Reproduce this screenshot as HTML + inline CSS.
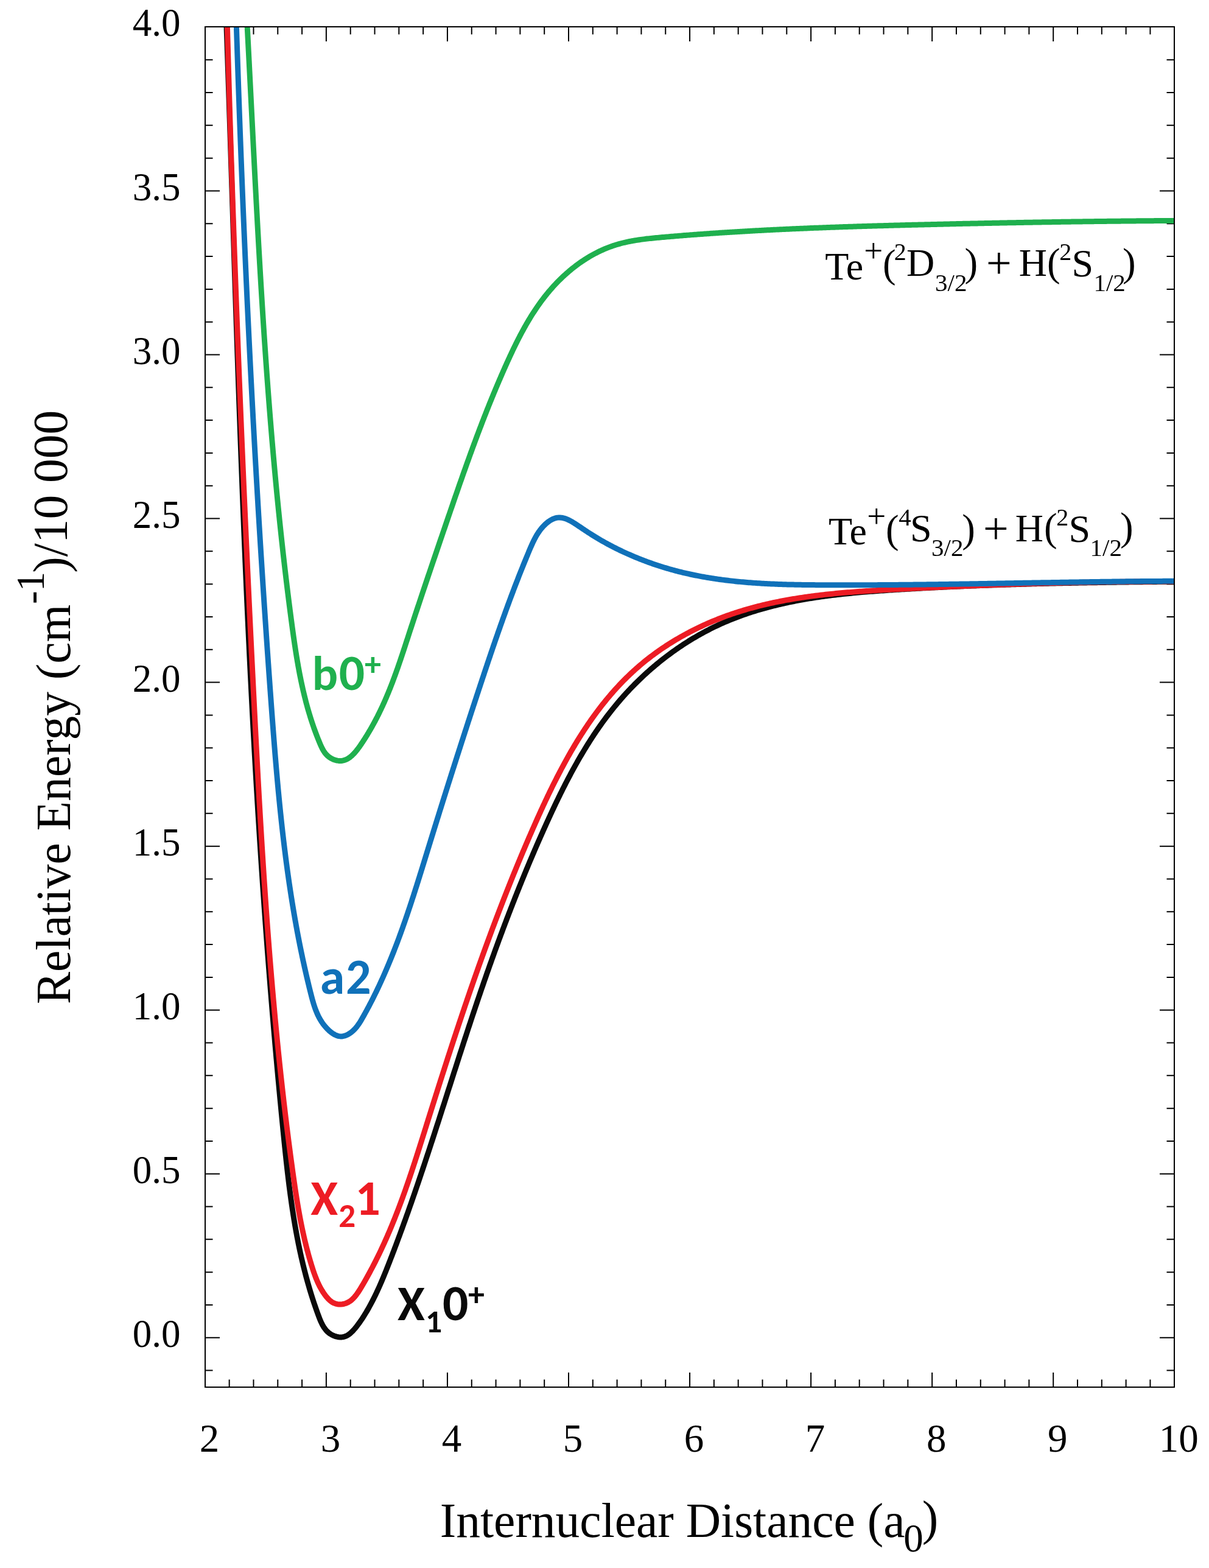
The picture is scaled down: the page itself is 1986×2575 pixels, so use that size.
<!DOCTYPE html>
<html><head><meta charset="utf-8"><style>html,body{margin:0;padding:0;background:#fff;width:1986px;height:2575px;overflow:hidden}svg{display:block}</style></head>
<body>
<svg width="1986" height="2575" viewBox="0 0 1986 2575">
<rect width="1986" height="2575" fill="#fff"/>
<defs><clipPath id="pc"><rect x="338" y="45" width="1590" height="2232"/></clipPath></defs>
<g stroke="#000" stroke-width="2" fill="none">
<path d="M376.66,2278v-12.5M376.66,44v12.5M416.47,2278v-12.5M416.47,44v12.5M456.28,2278v-12.5M456.28,44v12.5M496.09,2278v-12.5M496.09,44v12.5M535.90,2278v-24M535.90,44v24M575.71,2278v-12.5M575.71,44v12.5M615.52,2278v-12.5M615.52,44v12.5M655.33,2278v-12.5M655.33,44v12.5M695.14,2278v-12.5M695.14,44v12.5M734.95,2278v-24M734.95,44v24M774.76,2278v-12.5M774.76,44v12.5M814.57,2278v-12.5M814.57,44v12.5M854.38,2278v-12.5M854.38,44v12.5M894.19,2278v-12.5M894.19,44v12.5M934.00,2278v-24M934.00,44v24M973.81,2278v-12.5M973.81,44v12.5M1013.62,2278v-12.5M1013.62,44v12.5M1053.43,2278v-12.5M1053.43,44v12.5M1093.24,2278v-12.5M1093.24,44v12.5M1133.05,2278v-24M1133.05,44v24M1172.86,2278v-12.5M1172.86,44v12.5M1212.67,2278v-12.5M1212.67,44v12.5M1252.48,2278v-12.5M1252.48,44v12.5M1292.29,2278v-12.5M1292.29,44v12.5M1332.10,2278v-24M1332.10,44v24M1371.91,2278v-12.5M1371.91,44v12.5M1411.72,2278v-12.5M1411.72,44v12.5M1451.53,2278v-12.5M1451.53,44v12.5M1491.34,2278v-12.5M1491.34,44v12.5M1531.15,2278v-24M1531.15,44v24M1570.96,2278v-12.5M1570.96,44v12.5M1610.77,2278v-12.5M1610.77,44v12.5M1650.58,2278v-12.5M1650.58,44v12.5M1690.39,2278v-12.5M1690.39,44v12.5M1730.20,2278v-24M1730.20,44v24M1770.01,2278v-12.5M1770.01,44v12.5M1809.82,2278v-12.5M1809.82,44v12.5M1849.63,2278v-12.5M1849.63,44v12.5M1889.44,2278v-12.5M1889.44,44v12.5M337,2250.61h12.5M1929,2250.61h-12.5M337,2196.80h24M1929,2196.80h-24M337,2142.99h12.5M1929,2142.99h-12.5M337,2089.18h12.5M1929,2089.18h-12.5M337,2035.37h12.5M1929,2035.37h-12.5M337,1981.56h12.5M1929,1981.56h-12.5M337,1927.75h24M1929,1927.75h-24M337,1873.94h12.5M1929,1873.94h-12.5M337,1820.13h12.5M1929,1820.13h-12.5M337,1766.32h12.5M1929,1766.32h-12.5M337,1712.51h12.5M1929,1712.51h-12.5M337,1658.70h24M1929,1658.70h-24M337,1604.89h12.5M1929,1604.89h-12.5M337,1551.08h12.5M1929,1551.08h-12.5M337,1497.27h12.5M1929,1497.27h-12.5M337,1443.46h12.5M1929,1443.46h-12.5M337,1389.65h24M1929,1389.65h-24M337,1335.84h12.5M1929,1335.84h-12.5M337,1282.03h12.5M1929,1282.03h-12.5M337,1228.22h12.5M1929,1228.22h-12.5M337,1174.41h12.5M1929,1174.41h-12.5M337,1120.60h24M1929,1120.60h-24M337,1066.79h12.5M1929,1066.79h-12.5M337,1012.98h12.5M1929,1012.98h-12.5M337,959.17h12.5M1929,959.17h-12.5M337,905.36h12.5M1929,905.36h-12.5M337,851.55h24M1929,851.55h-24M337,797.74h12.5M1929,797.74h-12.5M337,743.93h12.5M1929,743.93h-12.5M337,690.12h12.5M1929,690.12h-12.5M337,636.31h12.5M1929,636.31h-12.5M337,582.50h24M1929,582.50h-24M337,528.69h12.5M1929,528.69h-12.5M337,474.88h12.5M1929,474.88h-12.5M337,421.07h12.5M1929,421.07h-12.5M337,367.26h12.5M1929,367.26h-12.5M337,313.45h24M1929,313.45h-24M337,259.64h12.5M1929,259.64h-12.5M337,205.83h12.5M1929,205.83h-12.5M337,152.02h12.5M1929,152.02h-12.5M337,98.21h12.5M1929,98.21h-12.5"/>
</g>
<g clip-path="url(#pc)" fill="none" stroke-width="9" stroke-linejoin="round" stroke-linecap="butt">
<path stroke="#0a0a0a" d="M372.05,44.02 L372.15,46.88 L372.25,49.74 L372.35,52.60 L372.45,55.47 L372.55,58.33 L372.65,61.19 L372.75,64.05 L372.85,66.91 L372.95,69.77 L373.05,72.64 L373.15,75.50 L373.25,78.36 L373.35,81.22 L373.45,84.08 L373.55,86.94 L373.64,89.81 L373.74,92.67 L373.84,95.53 L373.94,98.39 L374.04,101.25 L374.13,104.11 L374.23,106.98 L374.33,109.84 L374.43,112.70 L374.52,115.56 L374.62,118.42 L374.72,121.29 L374.82,124.15 L374.91,127.01 L375.01,129.87 L375.11,132.73 L375.20,135.60 L375.30,138.46 L375.40,141.32 L375.49,144.18 L375.59,147.04 L375.69,149.90 L375.78,152.77 L375.88,155.63 L375.97,158.49 L376.07,161.35 L376.17,164.21 L376.26,167.08 L376.36,169.94 L376.45,172.80 L376.55,175.66 L376.64,178.52 L376.74,181.39 L376.84,184.25 L376.93,187.11 L377.03,189.97 L377.12,192.84 L377.22,195.70 L377.31,198.56 L377.41,201.42 L377.50,204.28 L377.60,207.15 L377.69,210.01 L377.78,212.87 L377.88,215.73 L377.97,218.59 L378.07,221.46 L378.16,224.32 L378.26,227.18 L378.35,230.04 L378.45,232.91 L378.54,235.77 L378.63,238.63 L378.73,241.49 L378.82,244.35 L378.92,247.22 L379.01,250.08 L379.10,252.94 L379.20,255.80 L379.29,258.67 L379.39,261.53 L379.48,264.39 L379.57,267.25 L379.67,270.11 L379.76,272.98 L379.86,275.84 L379.95,278.70 L380.04,281.56 L380.14,284.43 L380.23,287.29 L380.32,290.15 L380.42,293.01 L380.51,295.88 L380.60,298.74 L380.70,301.60 L380.79,304.46 L380.88,307.32 L380.98,310.19 L381.07,313.05 L381.16,315.91 L381.26,318.77 L381.35,321.64 L381.45,324.50 L381.54,327.36 L381.63,330.22 L381.73,333.09 L381.82,335.95 L381.91,338.81 L382.01,341.67 L382.10,344.54 L382.19,347.40 L382.29,350.26 L382.38,353.12 L382.47,355.99 L382.57,358.85 L382.66,361.71 L382.75,364.57 L382.85,367.43 L382.94,370.30 L383.03,373.16 L383.13,376.02 L383.22,378.88 L383.31,381.75 L383.41,384.61 L383.50,387.47 L383.59,390.33 L383.69,393.20 L383.78,396.06 L383.88,398.92 L383.97,401.78 L384.06,404.65 L384.16,407.51 L384.25,410.37 L384.34,413.23 L384.44,416.10 L384.53,418.96 L384.63,421.82 L384.72,424.68 L384.81,427.55 L384.91,430.41 L385.00,433.27 L385.10,436.13 L385.19,439.00 L385.28,441.86 L385.38,444.72 L385.47,447.58 L385.57,450.45 L385.66,453.31 L385.76,456.17 L385.85,459.03 L385.95,461.90 L386.04,464.76 L386.14,467.62 L386.23,470.48 L386.33,473.35 L386.42,476.21 L386.52,479.07 L386.61,481.93 L386.71,484.80 L386.80,487.66 L386.90,490.52 L386.99,493.38 L387.09,496.25 L387.18,499.11 L387.28,501.97 L387.37,504.83 L387.47,507.70 L387.57,510.56 L387.66,513.42 L387.76,516.28 L387.85,519.15 L387.95,522.01 L388.05,524.87 L388.14,527.73 L388.24,530.60 L388.33,533.46 L388.43,536.32 L388.53,539.18 L388.63,542.05 L388.72,544.91 L388.82,547.77 L388.92,550.63 L389.01,553.49 L389.11,556.36 L389.21,559.22 L389.31,562.08 L389.40,564.94 L389.50,567.81 L389.60,570.67 L389.70,573.53 L389.79,576.39 L389.89,579.26 L389.99,582.12 L390.09,584.98 L390.19,587.84 L390.29,590.71 L390.39,593.57 L390.48,596.43 L390.58,599.29 L390.68,602.16 L390.78,605.02 L390.88,607.88 L390.98,610.74 L391.08,613.60 L391.18,616.47 L391.28,619.33 L391.38,622.19 L391.48,625.05 L391.58,627.92 L391.68,630.78 L391.78,633.64 L391.88,636.50 L391.98,639.37 L392.08,642.23 L392.18,645.09 L392.29,647.95 L392.39,650.81 L392.49,653.68 L392.59,656.54 L392.69,659.40 L392.79,662.26 L392.90,665.13 L393.00,667.99 L393.10,670.85 L393.20,673.71 L393.31,676.58 L393.41,679.44 L393.51,682.30 L393.62,685.16 L393.72,688.02 L393.82,690.89 L393.93,693.75 L394.03,696.61 L394.13,699.47 L394.24,702.33 L394.34,705.20 L394.45,708.06 L394.55,710.92 L394.66,713.78 L394.76,716.65 L394.87,719.51 L394.97,722.37 L395.08,725.23 L395.18,728.09 L395.29,730.96 L395.40,733.82 L395.50,736.68 L395.61,739.54 L395.72,742.40 L395.82,745.27 L395.93,748.13 L396.04,750.99 L396.15,753.85 L396.25,756.71 L396.36,759.58 L396.47,762.44 L396.58,765.30 L396.69,768.16 L396.80,771.02 L396.90,773.89 L397.01,776.75 L397.12,779.61 L397.23,782.47 L397.34,785.33 L397.45,788.20 L397.56,791.06 L397.67,793.92 L397.78,796.78 L397.89,799.64 L398.01,802.50 L398.12,805.37 L398.23,808.23 L398.34,811.09 L398.45,813.95 L398.56,816.81 L398.68,819.68 L398.79,822.54 L398.90,825.40 L399.01,828.26 L399.13,831.12 L399.24,833.98 L399.36,836.85 L399.47,839.71 L399.58,842.57 L399.70,845.43 L399.81,848.29 L399.93,851.15 L400.04,854.02 L400.16,856.88 L400.27,859.74 L400.39,862.60 L400.51,865.46 L400.62,868.32 L400.74,871.18 L400.86,874.05 L400.97,876.91 L401.09,879.77 L401.21,882.63 L401.33,885.49 L401.44,888.35 L401.56,891.22 L401.68,894.08 L401.80,896.94 L401.92,899.80 L402.04,902.66 L402.16,905.52 L402.28,908.38 L402.40,911.25 L402.52,914.11 L402.64,916.97 L402.76,919.83 L402.88,922.69 L403.01,925.55 L403.13,928.41 L403.25,931.27 L403.37,934.14 L403.50,937.00 L403.62,939.86 L403.74,942.72 L403.87,945.58 L403.99,948.44 L404.11,951.30 L404.24,954.16 L404.36,957.02 L404.49,959.89 L404.61,962.75 L404.74,965.61 L404.86,968.47 L404.99,971.33 L405.12,974.19 L405.24,977.05 L405.37,979.91 L405.50,982.77 L405.63,985.63 L405.75,988.50 L405.88,991.36 L406.01,994.22 L406.14,997.08 L406.27,999.94 L406.40,1002.80 L406.53,1005.66 L406.66,1008.52 L406.79,1011.38 L406.92,1014.24 L407.05,1017.10 L407.18,1019.97 L407.32,1022.83 L407.45,1025.69 L407.58,1028.55 L407.71,1031.41 L407.85,1034.27 L407.98,1037.13 L408.11,1039.99 L408.25,1042.85 L408.38,1045.71 L408.52,1048.57 L408.65,1051.43 L408.79,1054.29 L408.92,1057.15 L409.06,1060.01 L409.20,1062.87 L409.33,1065.73 L409.47,1068.60 L409.61,1071.46 L409.74,1074.32 L409.88,1077.18 L410.02,1080.04 L410.16,1082.90 L410.30,1085.76 L410.44,1088.62 L410.58,1091.48 L410.72,1094.34 L410.86,1097.20 L411.00,1100.06 L411.14,1102.92 L411.28,1105.78 L411.43,1108.64 L411.57,1111.50 L411.71,1114.36 L411.85,1117.22 L412.00,1120.08 L412.14,1122.94 L412.29,1125.80 L412.43,1128.66 L412.58,1131.52 L412.72,1134.38 L412.87,1137.24 L413.01,1140.10 L413.16,1142.96 L413.31,1145.82 L413.45,1148.68 L413.60,1151.54 L413.75,1154.40 L413.90,1157.26 L414.05,1160.12 L414.20,1162.98 L414.34,1165.84 L414.49,1168.70 L414.65,1171.56 L414.80,1174.42 L414.95,1177.28 L415.10,1180.14 L415.25,1183.00 L415.40,1185.86 L415.56,1188.71 L415.71,1191.57 L415.86,1194.43 L416.02,1197.29 L416.17,1200.15 L416.32,1203.01 L416.48,1205.87 L416.64,1208.73 L416.79,1211.59 L416.95,1214.45 L417.10,1217.31 L417.26,1220.17 L417.42,1223.03 L417.58,1225.89 L417.74,1228.75 L417.89,1231.61 L418.05,1234.46 L418.21,1237.32 L418.37,1240.18 L418.53,1243.04 L418.70,1245.90 L418.86,1248.76 L419.02,1251.62 L419.18,1254.48 L419.34,1257.34 L419.51,1260.20 L419.67,1263.05 L419.83,1265.91 L420.00,1268.77 L420.16,1271.63 L420.33,1274.49 L420.49,1277.35 L420.66,1280.21 L420.83,1283.07 L420.99,1285.93 L421.16,1288.78 L421.33,1291.64 L421.50,1294.50 L421.67,1297.36 L421.84,1300.22 L422.01,1303.08 L422.18,1305.94 L422.35,1308.79 L422.52,1311.65 L422.69,1314.51 L422.86,1317.37 L423.03,1320.23 L423.21,1323.09 L423.38,1325.94 L423.55,1328.80 L423.73,1331.66 L423.90,1334.52 L424.08,1337.38 L424.25,1340.24 L424.43,1343.09 L424.61,1345.95 L424.78,1348.81 L424.96,1351.67 L425.14,1354.53 L425.32,1357.38 L425.50,1360.24 L425.68,1363.10 L425.86,1365.96 L426.04,1368.82 L426.22,1371.67 L426.40,1374.53 L426.58,1377.39 L426.76,1380.25 L426.95,1383.11 L427.13,1385.96 L427.31,1388.82 L427.50,1391.68 L427.68,1394.54 L427.87,1397.39 L428.06,1400.25 L428.24,1403.11 L428.43,1405.97 L428.62,1408.82 L428.80,1411.68 L428.99,1414.54 L429.18,1417.40 L429.37,1420.25 L429.56,1423.11 L429.75,1425.97 L429.94,1428.83 L430.13,1431.68 L430.33,1434.54 L430.52,1437.40 L430.71,1440.26 L430.90,1443.11 L431.10,1445.97 L431.29,1448.83 L431.49,1451.68 L431.68,1454.54 L431.88,1457.40 L432.08,1460.25 L432.27,1463.11 L432.47,1465.97 L432.67,1468.83 L432.87,1471.68 L433.07,1474.54 L433.27,1477.40 L433.47,1480.25 L433.67,1483.11 L433.87,1485.97 L434.07,1488.82 L434.28,1491.68 L434.48,1494.54 L434.68,1497.39 L434.89,1500.25 L435.09,1503.11 L435.30,1505.96 L435.50,1508.82 L435.71,1511.67 L435.92,1514.53 L436.12,1517.39 L436.33,1520.24 L436.54,1523.10 L436.75,1525.96 L436.96,1528.81 L437.17,1531.67 L437.38,1534.52 L437.59,1537.38 L437.80,1540.24 L438.02,1543.09 L438.23,1545.95 L438.44,1548.80 L438.66,1551.66 L438.87,1554.52 L439.09,1557.37 L439.30,1560.23 L439.52,1563.08 L439.74,1565.94 L439.95,1568.79 L440.17,1571.65 L440.39,1574.51 L440.61,1577.36 L440.83,1580.22 L441.05,1583.07 L441.27,1585.93 L441.49,1588.78 L441.72,1591.64 L441.94,1594.49 L442.16,1597.35 L442.39,1600.21 L442.61,1603.06 L442.84,1605.92 L443.06,1608.77 L443.29,1611.63 L443.52,1614.48 L443.74,1617.34 L443.97,1620.19 L444.20,1623.05 L444.43,1625.90 L444.66,1628.76 L444.89,1631.61 L445.12,1634.47 L445.35,1637.32 L445.59,1640.18 L445.82,1643.03 L446.05,1645.89 L446.29,1648.74 L446.52,1651.59 L446.76,1654.45 L446.99,1657.30 L447.23,1660.16 L447.47,1663.01 L447.71,1665.87 L447.95,1668.72 L448.19,1671.58 L448.43,1674.43 L448.67,1677.28 L448.91,1680.14 L449.15,1682.99 L449.39,1685.85 L449.63,1688.70 L449.88,1691.56 L450.12,1694.41 L450.37,1697.26 L450.61,1700.12 L450.86,1702.97 L451.11,1705.83 L451.35,1708.68 L451.60,1711.53 L451.85,1714.39 L452.10,1717.24 L452.35,1720.09 L452.60,1722.95 L452.85,1725.80 L453.11,1728.66 L453.36,1731.51 L453.61,1734.36 L453.87,1737.22 L454.12,1740.07 L454.38,1742.92 L454.63,1745.78 L454.89,1748.63 L455.15,1751.48 L455.40,1754.34 L455.66,1757.19 L455.92,1760.04 L456.18,1762.90 L456.44,1765.75 L456.70,1768.60 L456.97,1771.46 L457.23,1774.31 L457.49,1777.16 L457.76,1780.01 L458.02,1782.87 L458.29,1785.72 L458.55,1788.57 L458.82,1791.42 L459.09,1794.28 L459.35,1797.13 L459.62,1799.98 L459.89,1802.84 L460.16,1805.69 L460.43,1808.54 L460.71,1811.39 L460.98,1814.25 L461.25,1817.10 L461.53,1819.95 L461.80,1822.80 L462.07,1825.65 L462.35,1828.51 L462.63,1831.36 L462.90,1834.21 L463.18,1837.06 L463.46,1839.91 L463.74,1842.77 L464.02,1845.62 L464.30,1848.47 L464.58,1851.32 L464.86,1854.17 L465.15,1857.03 L465.43,1859.88 L465.71,1862.73 L466.00,1865.58 L466.29,1868.43 L466.57,1871.28 L466.86,1874.13 L467.15,1876.99 L467.44,1879.84 L467.73,1882.69 L468.03,1885.54 L468.32,1888.39 L468.62,1891.24 L468.92,1894.09 L469.22,1896.94 L469.53,1899.79 L469.83,1902.63 L470.14,1905.48 L470.45,1908.33 L470.77,1911.18 L471.08,1914.03 L471.40,1916.87 L471.72,1919.72 L472.05,1922.56 L472.38,1925.41 L472.71,1928.25 L473.04,1931.10 L473.38,1933.94 L473.73,1936.78 L474.07,1939.62 L474.42,1942.47 L474.78,1945.31 L475.13,1948.15 L475.50,1950.98 L475.86,1953.82 L476.24,1956.66 L476.61,1959.50 L476.99,1962.33 L477.38,1965.17 L477.77,1968.00 L478.16,1970.84 L478.56,1973.67 L478.97,1976.50 L479.38,1979.33 L479.80,1982.16 L480.22,1984.99 L480.65,1987.81 L481.08,1990.64 L481.52,1993.47 L481.96,1996.29 L482.42,1999.11 L482.87,2001.94 L483.34,2004.76 L483.81,2007.58 L484.29,2010.39 L484.77,2013.21 L485.26,2016.03 L485.76,2018.84 L486.26,2021.65 L486.78,2024.47 L487.30,2027.28 L487.82,2030.09 L488.36,2032.89 L488.90,2035.70 L489.45,2038.50 L490.01,2041.31 L490.57,2044.11 L491.14,2046.91 L491.73,2049.71 L492.32,2052.51 L492.91,2055.30 L493.52,2058.10 L494.14,2060.89 L494.76,2063.68 L495.40,2066.47 L496.04,2069.26 L496.69,2072.04 L497.35,2074.82 L498.02,2077.61 L498.70,2080.39 L499.39,2083.17 L500.09,2085.94 L500.80,2088.72 L501.51,2091.49 L502.24,2094.26 L502.98,2097.03 L503.73,2099.80 L504.49,2102.56 L505.26,2105.33 L506.04,2108.09 L506.83,2110.85 L507.63,2113.61 L508.44,2116.36 L509.27,2119.11 L510.10,2121.86 L510.95,2124.61 L511.80,2127.36 L512.67,2130.10 L513.55,2132.85 L514.45,2135.59 L515.35,2138.32 L516.26,2141.06 L517.19,2143.79 L518.13,2146.52 L519.09,2149.25 L520.05,2151.98 L521.03,2154.70 L522.02,2157.42 L523.02,2160.14 L524.04,2162.86 L525.08,2165.56 L526.17,2168.23 L527.31,2170.86 L528.52,2173.43 L529.81,2175.94 L531.21,2178.37 L532.71,2180.70 L534.35,2182.93 L536.13,2185.04 L538.06,2187.01 L540.17,2188.84 L542.46,2190.50 L544.94,2191.99 L547.56,2193.28 L550.30,2194.35 L553.12,2195.17 L555.97,2195.71 L558.82,2195.96 L561.64,2195.89 L564.39,2195.47 L567.03,2194.69 L569.55,2193.58 L571.98,2192.16 L574.30,2190.49 L576.52,2188.60 L578.66,2186.55 L580.72,2184.36 L582.70,2182.09 L584.61,2179.77 L586.45,2177.44 L588.24,2175.10 L589.96,2172.76 L591.64,2170.40 L593.27,2168.03 L594.87,2165.66 L596.42,2163.27 L597.95,2160.86 L599.45,2158.45 L600.93,2156.02 L602.38,2153.58 L603.81,2151.12 L605.22,2148.65 L606.61,2146.17 L607.98,2143.68 L609.33,2141.17 L610.66,2138.66 L611.98,2136.13 L613.27,2133.60 L614.55,2131.05 L615.81,2128.50 L617.05,2125.93 L618.28,2123.36 L619.50,2120.78 L620.69,2118.18 L621.88,2115.59 L623.05,2112.98 L624.21,2110.37 L625.36,2107.75 L626.50,2105.12 L627.62,2102.49 L628.74,2099.86 L629.84,2097.21 L630.94,2094.57 L632.02,2091.92 L633.10,2089.26 L634.18,2086.60 L635.24,2083.94 L636.30,2081.27 L637.35,2078.61 L638.40,2075.94 L639.45,2073.26 L640.49,2070.59 L641.52,2067.92 L642.56,2065.24 L643.59,2062.56 L644.62,2059.89 L645.64,2057.21 L646.66,2054.53 L647.68,2051.85 L648.70,2049.16 L649.71,2046.48 L650.72,2043.80 L651.73,2041.11 L652.73,2038.43 L653.73,2035.74 L654.73,2033.05 L655.73,2030.37 L656.72,2027.68 L657.71,2024.99 L658.70,2022.29 L659.69,2019.60 L660.67,2016.91 L661.65,2014.22 L662.63,2011.52 L663.60,2008.83 L664.57,2006.13 L665.54,2003.43 L666.51,2000.74 L667.48,1998.04 L668.44,1995.34 L669.40,1992.64 L670.36,1989.94 L671.31,1987.23 L672.27,1984.53 L673.22,1981.83 L674.17,1979.13 L675.12,1976.42 L676.06,1973.72 L677.00,1971.01 L677.95,1968.30 L678.88,1965.60 L679.82,1962.89 L680.76,1960.18 L681.69,1957.47 L682.62,1954.76 L683.55,1952.05 L684.48,1949.34 L685.40,1946.63 L686.33,1943.92 L687.25,1941.20 L688.17,1938.49 L689.09,1935.78 L690.01,1933.06 L690.92,1930.35 L691.84,1927.63 L692.75,1924.92 L693.66,1922.20 L694.57,1919.48 L695.48,1916.77 L696.38,1914.05 L697.29,1911.33 L698.19,1908.61 L699.10,1905.89 L700.00,1903.17 L700.90,1900.45 L701.79,1897.73 L702.69,1895.01 L703.59,1892.29 L704.48,1889.57 L705.38,1886.85 L706.27,1884.13 L707.16,1881.40 L708.05,1878.68 L708.94,1875.96 L709.83,1873.24 L710.72,1870.51 L711.60,1867.79 L712.49,1865.06 L713.38,1862.34 L714.26,1859.61 L715.14,1856.89 L716.03,1854.16 L716.91,1851.44 L717.79,1848.71 L718.67,1845.99 L719.55,1843.26 L720.43,1840.54 L721.31,1837.81 L722.18,1835.08 L723.06,1832.36 L723.94,1829.63 L724.82,1826.90 L725.69,1824.18 L726.57,1821.45 L727.44,1818.72 L728.32,1816.00 L729.19,1813.27 L730.07,1810.54 L730.94,1807.82 L731.81,1805.09 L732.69,1802.36 L733.56,1799.63 L734.44,1796.91 L735.31,1794.18 L736.18,1791.45 L737.06,1788.73 L737.93,1786.00 L738.80,1783.27 L739.68,1780.54 L740.55,1777.82 L741.42,1775.09 L742.30,1772.36 L743.17,1769.64 L744.04,1766.91 L744.92,1764.18 L745.79,1761.46 L746.67,1758.73 L747.54,1756.01 L748.42,1753.28 L749.29,1750.55 L750.17,1747.83 L751.05,1745.10 L751.93,1742.38 L752.80,1739.65 L753.68,1736.93 L754.56,1734.21 L755.44,1731.48 L756.32,1728.76 L757.20,1726.04 L758.08,1723.31 L758.96,1720.59 L759.85,1717.87 L760.73,1715.14 L761.62,1712.42 L762.50,1709.70 L763.39,1706.98 L764.27,1704.26 L765.16,1701.54 L766.05,1698.82 L766.94,1696.10 L767.83,1693.38 L768.73,1690.66 L769.62,1687.94 L770.51,1685.23 L771.41,1682.51 L772.31,1679.79 L773.20,1677.08 L774.10,1674.36 L775.00,1671.64 L775.91,1668.93 L776.81,1666.21 L777.71,1663.50 L778.62,1660.79 L779.53,1658.07 L780.43,1655.36 L781.34,1652.65 L782.26,1649.94 L783.17,1647.23 L784.08,1644.52 L785.00,1641.81 L785.92,1639.10 L786.84,1636.39 L787.76,1633.68 L788.68,1630.98 L789.61,1628.27 L790.54,1625.57 L791.46,1622.86 L792.39,1620.16 L793.33,1617.45 L794.26,1614.75 L795.20,1612.05 L796.13,1609.35 L797.07,1606.65 L798.02,1603.95 L798.96,1601.25 L799.90,1598.55 L800.85,1595.85 L801.80,1593.15 L802.75,1590.46 L803.71,1587.76 L804.66,1585.07 L805.62,1582.37 L806.58,1579.68 L807.54,1576.99 L808.50,1574.29 L809.47,1571.60 L810.44,1568.91 L811.41,1566.22 L812.38,1563.53 L813.35,1560.84 L814.33,1558.15 L815.31,1555.47 L816.29,1552.78 L817.27,1550.09 L818.25,1547.41 L819.24,1544.72 L820.23,1542.04 L821.22,1539.36 L822.22,1536.67 L823.21,1533.99 L824.21,1531.31 L825.21,1528.63 L826.22,1525.95 L827.22,1523.27 L828.23,1520.60 L829.24,1517.92 L830.25,1515.24 L831.27,1512.57 L832.28,1509.89 L833.30,1507.22 L834.33,1504.54 L835.35,1501.87 L836.38,1499.20 L837.41,1496.53 L838.44,1493.86 L839.48,1491.19 L840.51,1488.52 L841.55,1485.85 L842.60,1483.18 L843.64,1480.51 L844.69,1477.85 L845.74,1475.18 L846.79,1472.52 L847.85,1469.85 L848.91,1467.19 L849.97,1464.53 L851.03,1461.87 L852.10,1459.21 L853.17,1456.55 L854.24,1453.89 L855.32,1451.23 L856.39,1448.57 L857.47,1445.92 L858.56,1443.26 L859.64,1440.60 L860.73,1437.95 L861.82,1435.30 L862.92,1432.64 L864.02,1429.99 L865.12,1427.34 L866.22,1424.69 L867.33,1422.04 L868.43,1419.39 L869.55,1416.74 L870.66,1414.10 L871.78,1411.45 L872.90,1408.80 L874.03,1406.16 L875.15,1403.51 L876.28,1400.87 L877.42,1398.23 L878.55,1395.59 L879.69,1392.95 L880.83,1390.31 L881.98,1387.67 L883.13,1385.03 L884.28,1382.39 L885.43,1379.75 L886.59,1377.12 L887.75,1374.48 L888.92,1371.85 L890.09,1369.21 L891.26,1366.58 L892.43,1363.95 L893.61,1361.32 L894.79,1358.69 L895.98,1356.06 L897.16,1353.43 L898.35,1350.80 L899.55,1348.18 L900.75,1345.55 L901.95,1342.93 L903.16,1340.31 L904.37,1337.69 L905.58,1335.07 L906.80,1332.45 L908.03,1329.84 L909.26,1327.22 L910.49,1324.61 L911.73,1322.01 L912.97,1319.40 L914.22,1316.80 L915.47,1314.20 L916.73,1311.60 L917.99,1309.00 L919.26,1306.41 L920.54,1303.82 L921.82,1301.24 L923.10,1298.65 L924.40,1296.07 L925.70,1293.50 L927.00,1290.92 L928.31,1288.36 L929.63,1285.79 L930.95,1283.23 L932.28,1280.67 L933.62,1278.12 L934.96,1275.57 L936.32,1273.02 L937.67,1270.48 L939.04,1267.95 L940.41,1265.42 L941.79,1262.89 L943.18,1260.37 L944.57,1257.85 L945.98,1255.34 L947.39,1252.83 L948.81,1250.33 L950.23,1247.84 L951.67,1245.35 L953.11,1242.86 L954.56,1240.38 L956.02,1237.91 L957.49,1235.44 L958.97,1232.98 L960.46,1230.53 L961.95,1228.08 L963.46,1225.64 L964.97,1223.20 L966.50,1220.77 L968.03,1218.35 L969.57,1215.93 L971.12,1213.52 L972.68,1211.12 L974.26,1208.72 L975.84,1206.34 L977.43,1203.96 L979.03,1201.58 L980.65,1199.22 L982.27,1196.86 L983.90,1194.51 L985.55,1192.17 L987.20,1189.83 L988.87,1187.50 L990.54,1185.19 L992.23,1182.88 L993.93,1180.57 L995.64,1178.28 L997.36,1176.00 L999.10,1173.72 L1000.84,1171.45 L1002.60,1169.19 L1004.37,1166.94 L1006.15,1164.70 L1007.95,1162.47 L1009.75,1160.25 L1011.57,1158.04 L1013.40,1155.84 L1015.24,1153.64 L1017.10,1151.46 L1018.97,1149.29 L1020.85,1147.12 L1022.75,1144.97 L1024.65,1142.83 L1026.57,1140.69 L1028.51,1138.57 L1030.45,1136.46 L1032.41,1134.36 L1034.38,1132.27 L1036.36,1130.19 L1038.36,1128.12 L1040.36,1126.06 L1042.38,1124.01 L1044.41,1121.98 L1046.45,1119.95 L1048.51,1117.94 L1050.57,1115.94 L1052.65,1113.95 L1054.74,1111.97 L1056.84,1110.01 L1058.95,1108.05 L1061.08,1106.11 L1063.21,1104.18 L1065.35,1102.26 L1067.51,1100.36 L1069.68,1098.46 L1071.85,1096.58 L1074.04,1094.71 L1076.24,1092.86 L1078.45,1091.02 L1080.67,1089.19 L1082.90,1087.37 L1085.14,1085.57 L1087.39,1083.78 L1089.65,1082.00 L1091.92,1080.24 L1094.21,1078.49 L1096.50,1076.76 L1098.80,1075.03 L1101.11,1073.33 L1103.43,1071.63 L1105.76,1069.95 L1108.09,1068.29 L1110.44,1066.64 L1112.80,1065.00 L1115.17,1063.38 L1117.54,1061.77 L1119.92,1060.18 L1122.32,1058.60 L1124.72,1057.04 L1127.13,1055.49 L1129.55,1053.96 L1131.98,1052.44 L1134.41,1050.94 L1136.86,1049.45 L1139.31,1047.98 L1141.77,1046.52 L1144.24,1045.08 L1146.72,1043.66 L1149.21,1042.25 L1151.70,1040.86 L1154.20,1039.48 L1156.71,1038.12 L1159.22,1036.78 L1161.75,1035.45 L1164.28,1034.14 L1166.82,1032.85 L1169.36,1031.57 L1171.91,1030.31 L1174.47,1029.07 L1177.04,1027.85 L1179.62,1026.64 L1182.20,1025.45 L1184.78,1024.27 L1187.38,1023.12 L1189.98,1021.98 L1192.58,1020.85 L1195.20,1019.75 L1197.82,1018.66 L1200.44,1017.58 L1203.08,1016.53 L1205.71,1015.49 L1208.36,1014.46 L1211.01,1013.45 L1213.67,1012.46 L1216.33,1011.48 L1219.00,1010.52 L1221.67,1009.57 L1224.35,1008.64 L1227.03,1007.72 L1229.72,1006.82 L1232.42,1005.93 L1235.12,1005.06 L1237.83,1004.20 L1240.54,1003.35 L1243.25,1002.52 L1245.98,1001.70 L1248.70,1000.90 L1251.43,1000.11 L1254.17,999.34 L1256.91,998.57 L1259.66,997.82 L1262.41,997.09 L1265.16,996.36 L1267.92,995.65 L1270.69,994.95 L1273.45,994.27 L1276.22,993.59 L1279.00,992.93 L1281.78,992.28 L1284.57,991.64 L1287.35,991.02 L1290.15,990.40 L1292.94,989.80 L1295.74,989.21 L1298.54,988.63 L1301.35,988.06 L1304.16,987.50 L1306.97,986.95 L1309.79,986.41 L1312.61,985.88 L1315.43,985.36 L1318.26,984.86 L1321.09,984.36 L1323.92,983.87 L1326.76,983.39 L1329.60,982.93 L1332.44,982.47 L1335.28,982.02 L1338.13,981.58 L1340.97,981.15 L1343.83,980.72 L1346.68,980.31 L1349.53,979.90 L1352.39,979.50 L1355.25,979.11 L1358.11,978.73 L1360.98,978.36 L1363.84,977.99 L1366.71,977.64 L1369.58,977.28 L1372.45,976.94 L1375.33,976.60 L1378.20,976.28 L1381.08,975.95 L1383.95,975.64 L1386.83,975.33 L1389.71,975.03 L1392.59,974.73 L1395.48,974.44 L1398.36,974.15 L1401.24,973.88 L1404.13,973.60 L1407.02,973.34 L1409.90,973.07 L1412.79,972.82 L1415.68,972.57 L1418.57,972.32 L1421.45,972.08 L1424.34,971.84 L1427.23,971.61 L1430.12,971.38 L1433.01,971.16 L1435.90,970.94 L1438.79,970.72 L1441.68,970.51 L1444.57,970.30 L1447.46,970.09 L1450.35,969.89 L1453.24,969.69 L1456.13,969.50 L1459.02,969.30 L1461.90,969.11 L1464.79,968.93 L1467.68,968.74 L1470.56,968.56 L1473.45,968.38 L1476.33,968.20 L1479.21,968.03 L1482.09,967.85 L1484.97,967.68 L1487.85,967.51 L1490.73,967.34 L1493.61,967.17 L1496.48,967.00 L1499.36,966.84 L1502.23,966.67 L1505.10,966.51 L1507.97,966.35 L1510.85,966.19 L1513.71,966.04 L1516.58,965.88 L1519.45,965.73 L1522.32,965.57 L1525.18,965.42 L1528.05,965.27 L1530.91,965.13 L1533.78,964.98 L1536.64,964.84 L1539.50,964.69 L1542.36,964.55 L1545.22,964.41 L1548.08,964.27 L1550.94,964.13 L1553.80,964.00 L1556.65,963.86 L1559.51,963.73 L1562.36,963.60 L1565.22,963.47 L1568.07,963.34 L1570.93,963.21 L1573.78,963.08 L1576.63,962.96 L1579.48,962.84 L1582.34,962.71 L1585.19,962.59 L1588.04,962.47 L1590.89,962.36 L1593.73,962.24 L1596.58,962.12 L1599.43,962.01 L1602.28,961.90 L1605.13,961.78 L1607.97,961.67 L1610.82,961.56 L1613.67,961.46 L1616.51,961.35 L1619.36,961.24 L1622.20,961.14 L1625.05,961.04 L1627.89,960.93 L1630.73,960.83 L1633.58,960.73 L1636.42,960.64 L1639.27,960.54 L1642.11,960.44 L1644.95,960.35 L1647.79,960.25 L1650.64,960.16 L1653.48,960.07 L1656.32,959.98 L1659.16,959.89 L1662.01,959.80 L1664.85,959.71 L1667.69,959.63 L1670.53,959.54 L1673.37,959.46 L1676.21,959.38 L1679.06,959.29 L1681.90,959.21 L1684.74,959.13 L1687.58,959.06 L1690.42,958.98 L1693.27,958.90 L1696.11,958.83 L1698.95,958.75 L1701.79,958.68 L1704.63,958.60 L1707.48,958.53 L1710.32,958.46 L1713.16,958.39 L1716.01,958.32 L1718.85,958.25 L1721.69,958.19 L1724.54,958.12 L1727.38,958.05 L1730.23,957.99 L1733.07,957.92 L1735.92,957.86 L1738.76,957.80 L1741.61,957.74 L1744.45,957.68 L1747.30,957.62 L1750.15,957.56 L1752.99,957.50 L1755.84,957.44 L1758.69,957.39 L1761.54,957.33 L1764.39,957.28 L1767.24,957.22 L1770.09,957.17 L1772.94,957.12 L1775.79,957.06 L1778.64,957.01 L1781.50,956.96 L1784.35,956.91 L1787.20,956.86 L1790.06,956.81 L1792.91,956.77 L1795.77,956.72 L1798.63,956.67 L1801.48,956.63 L1804.34,956.58 L1807.20,956.54 L1810.06,956.49 L1812.92,956.45 L1815.78,956.41 L1818.64,956.37 L1821.51,956.32 L1824.37,956.28 L1827.23,956.24 L1830.10,956.20 L1832.97,956.16 L1835.83,956.12 L1838.70,956.09 L1841.57,956.05 L1844.44,956.01 L1847.31,955.98 L1850.18,955.94 L1853.06,955.90 L1855.93,955.87 L1858.81,955.83 L1861.68,955.80 L1864.56,955.76 L1867.44,955.73 L1870.32,955.70 L1873.20,955.67 L1876.08,955.63 L1878.96,955.60 L1881.85,955.57 L1884.73,955.54 L1887.62,955.51 L1890.51,955.48 L1893.40,955.45 L1896.29,955.42 L1899.18,955.39 L1902.07,955.36 L1904.96,955.33 L1907.86,955.30 L1910.76,955.28 L1913.66,955.25 L1916.55,955.22 L1919.46,955.19 L1922.36,955.17 L1925.26,955.14 L1928.17,955.11"/>
<path stroke="#ed1c24" d="M373.39,43.97 L373.46,46.78 L373.54,49.58 L373.62,52.39 L373.70,55.19 L373.77,58.00 L373.85,60.80 L373.93,63.61 L374.01,66.41 L374.09,69.22 L374.17,72.02 L374.25,74.82 L374.33,77.63 L374.41,80.43 L374.49,83.24 L374.57,86.04 L374.65,88.85 L374.73,91.65 L374.81,94.45 L374.89,97.26 L374.97,100.06 L375.05,102.87 L375.13,105.67 L375.21,108.48 L375.29,111.28 L375.37,114.08 L375.46,116.89 L375.54,119.69 L375.62,122.50 L375.70,125.30 L375.79,128.10 L375.87,130.91 L375.95,133.71 L376.04,136.52 L376.12,139.32 L376.20,142.13 L376.29,144.93 L376.37,147.73 L376.45,150.54 L376.54,153.34 L376.62,156.14 L376.71,158.95 L376.79,161.75 L376.88,164.56 L376.96,167.36 L377.05,170.16 L377.13,172.97 L377.22,175.77 L377.30,178.58 L377.39,181.38 L377.48,184.18 L377.56,186.99 L377.65,189.79 L377.74,192.59 L377.82,195.40 L377.91,198.20 L378.00,201.00 L378.08,203.81 L378.17,206.61 L378.26,209.42 L378.35,212.22 L378.44,215.02 L378.52,217.83 L378.61,220.63 L378.70,223.43 L378.79,226.24 L378.88,229.04 L378.97,231.84 L379.06,234.65 L379.15,237.45 L379.24,240.25 L379.33,243.06 L379.42,245.86 L379.51,248.66 L379.60,251.47 L379.69,254.27 L379.78,257.07 L379.87,259.88 L379.96,262.68 L380.05,265.48 L380.14,268.29 L380.23,271.09 L380.33,273.89 L380.42,276.70 L380.51,279.50 L380.60,282.30 L380.69,285.11 L380.79,287.91 L380.88,290.71 L380.97,293.52 L381.07,296.32 L381.16,299.12 L381.25,301.92 L381.35,304.73 L381.44,307.53 L381.53,310.33 L381.63,313.14 L381.72,315.94 L381.82,318.74 L381.91,321.55 L382.01,324.35 L382.10,327.15 L382.20,329.95 L382.29,332.76 L382.39,335.56 L382.48,338.36 L382.58,341.17 L382.68,343.97 L382.77,346.77 L382.87,349.57 L382.97,352.38 L383.06,355.18 L383.16,357.98 L383.26,360.79 L383.35,363.59 L383.45,366.39 L383.55,369.19 L383.65,372.00 L383.75,374.80 L383.84,377.60 L383.94,380.40 L384.04,383.21 L384.14,386.01 L384.24,388.81 L384.34,391.62 L384.44,394.42 L384.54,397.22 L384.64,400.02 L384.73,402.83 L384.83,405.63 L384.93,408.43 L385.03,411.23 L385.14,414.04 L385.24,416.84 L385.34,419.64 L385.44,422.44 L385.54,425.25 L385.64,428.05 L385.74,430.85 L385.84,433.65 L385.94,436.46 L386.05,439.26 L386.15,442.06 L386.25,444.86 L386.35,447.67 L386.46,450.47 L386.56,453.27 L386.66,456.07 L386.76,458.87 L386.87,461.68 L386.97,464.48 L387.07,467.28 L387.18,470.08 L387.28,472.89 L387.39,475.69 L387.49,478.49 L387.60,481.29 L387.70,484.10 L387.80,486.90 L387.91,489.70 L388.01,492.50 L388.12,495.30 L388.23,498.11 L388.33,500.91 L388.44,503.71 L388.54,506.51 L388.65,509.31 L388.76,512.12 L388.86,514.92 L388.97,517.72 L389.07,520.52 L389.18,523.33 L389.29,526.13 L389.40,528.93 L389.50,531.73 L389.61,534.53 L389.72,537.34 L389.83,540.14 L389.94,542.94 L390.04,545.74 L390.15,548.54 L390.26,551.35 L390.37,554.15 L390.48,556.95 L390.59,559.75 L390.70,562.55 L390.81,565.36 L390.92,568.16 L391.03,570.96 L391.14,573.76 L391.25,576.56 L391.36,579.37 L391.47,582.17 L391.58,584.97 L391.69,587.77 L391.80,590.57 L391.91,593.37 L392.02,596.18 L392.13,598.98 L392.24,601.78 L392.36,604.58 L392.47,607.38 L392.58,610.19 L392.69,612.99 L392.80,615.79 L392.92,618.59 L393.03,621.39 L393.14,624.19 L393.25,627.00 L393.37,629.80 L393.48,632.60 L393.59,635.40 L393.71,638.20 L393.82,641.00 L393.94,643.81 L394.05,646.61 L394.16,649.41 L394.28,652.21 L394.39,655.01 L394.51,657.81 L394.62,660.62 L394.74,663.42 L394.85,666.22 L394.97,669.02 L395.09,671.82 L395.20,674.62 L395.32,677.43 L395.43,680.23 L395.55,683.03 L395.67,685.83 L395.78,688.63 L395.90,691.43 L396.02,694.24 L396.13,697.04 L396.25,699.84 L396.37,702.64 L396.49,705.44 L396.60,708.24 L396.72,711.05 L396.84,713.85 L396.96,716.65 L397.08,719.45 L397.19,722.25 L397.31,725.05 L397.43,727.85 L397.55,730.66 L397.67,733.46 L397.79,736.26 L397.91,739.06 L398.03,741.86 L398.15,744.66 L398.27,747.47 L398.39,750.27 L398.51,753.07 L398.63,755.87 L398.75,758.67 L398.87,761.47 L398.99,764.27 L399.11,767.08 L399.23,769.88 L399.35,772.68 L399.48,775.48 L399.60,778.28 L399.72,781.08 L399.84,783.88 L399.96,786.69 L400.09,789.49 L400.21,792.29 L400.33,795.09 L400.45,797.89 L400.58,800.69 L400.70,803.49 L400.82,806.30 L400.95,809.10 L401.07,811.90 L401.19,814.70 L401.32,817.50 L401.44,820.30 L401.57,823.10 L401.69,825.90 L401.82,828.71 L401.94,831.51 L402.07,834.31 L402.19,837.11 L402.32,839.91 L402.44,842.71 L402.57,845.51 L402.69,848.32 L402.82,851.12 L402.94,853.92 L403.07,856.72 L403.20,859.52 L403.32,862.32 L403.45,865.12 L403.58,867.92 L403.70,870.73 L403.83,873.53 L403.96,876.33 L404.08,879.13 L404.21,881.93 L404.34,884.73 L404.47,887.53 L404.60,890.34 L404.72,893.14 L404.85,895.94 L404.98,898.74 L405.11,901.54 L405.24,904.34 L405.37,907.14 L405.50,909.94 L405.62,912.75 L405.75,915.55 L405.88,918.35 L406.01,921.15 L406.14,923.95 L406.27,926.75 L406.40,929.55 L406.53,932.35 L406.66,935.16 L406.79,937.96 L406.93,940.76 L407.06,943.56 L407.19,946.36 L407.32,949.16 L407.45,951.96 L407.58,954.76 L407.71,957.57 L407.84,960.37 L407.98,963.17 L408.11,965.97 L408.24,968.77 L408.37,971.57 L408.51,974.37 L408.64,977.17 L408.77,979.98 L408.90,982.78 L409.04,985.58 L409.17,988.38 L409.30,991.18 L409.44,993.98 L409.57,996.78 L409.71,999.58 L409.84,1002.39 L409.97,1005.19 L410.11,1007.99 L410.24,1010.79 L410.38,1013.59 L410.51,1016.39 L410.65,1019.19 L410.78,1021.99 L410.92,1024.80 L411.05,1027.60 L411.19,1030.40 L411.33,1033.20 L411.46,1036.00 L411.60,1038.80 L411.73,1041.60 L411.87,1044.40 L412.01,1047.21 L412.14,1050.01 L412.28,1052.81 L412.42,1055.61 L412.55,1058.41 L412.69,1061.21 L412.83,1064.01 L412.97,1066.81 L413.10,1069.62 L413.24,1072.42 L413.38,1075.22 L413.52,1078.02 L413.66,1080.82 L413.79,1083.62 L413.93,1086.42 L414.07,1089.22 L414.21,1092.03 L414.35,1094.83 L414.49,1097.63 L414.63,1100.43 L414.77,1103.23 L414.91,1106.03 L415.05,1108.83 L415.19,1111.64 L415.33,1114.44 L415.47,1117.24 L415.61,1120.04 L415.75,1122.84 L415.89,1125.64 L416.03,1128.44 L416.17,1131.24 L416.31,1134.05 L416.45,1136.85 L416.59,1139.65 L416.74,1142.45 L416.88,1145.25 L417.02,1148.05 L417.16,1150.85 L417.30,1153.66 L417.45,1156.46 L417.59,1159.26 L417.73,1162.06 L417.87,1164.86 L418.02,1167.66 L418.16,1170.46 L418.30,1173.26 L418.45,1176.07 L418.59,1178.87 L418.73,1181.67 L418.88,1184.47 L419.02,1187.27 L419.17,1190.07 L419.31,1192.87 L419.46,1195.68 L419.60,1198.48 L419.75,1201.28 L419.89,1204.08 L420.04,1206.88 L420.19,1209.68 L420.33,1212.48 L420.48,1215.28 L420.63,1218.09 L420.77,1220.89 L420.92,1223.69 L421.07,1226.49 L421.22,1229.29 L421.37,1232.09 L421.51,1234.89 L421.66,1237.69 L421.81,1240.50 L421.96,1243.30 L422.11,1246.10 L422.26,1248.90 L422.41,1251.70 L422.56,1254.50 L422.72,1257.30 L422.87,1260.10 L423.02,1262.90 L423.17,1265.70 L423.32,1268.51 L423.48,1271.31 L423.63,1274.11 L423.78,1276.91 L423.94,1279.71 L424.09,1282.51 L424.25,1285.31 L424.40,1288.11 L424.56,1290.91 L424.72,1293.71 L424.87,1296.51 L425.03,1299.31 L425.19,1302.12 L425.35,1304.92 L425.50,1307.72 L425.66,1310.52 L425.82,1313.32 L425.98,1316.12 L426.14,1318.92 L426.30,1321.72 L426.46,1324.52 L426.63,1327.32 L426.79,1330.12 L426.95,1332.92 L427.11,1335.72 L427.28,1338.52 L427.44,1341.32 L427.61,1344.12 L427.77,1346.92 L427.94,1349.72 L428.10,1352.52 L428.27,1355.32 L428.44,1358.12 L428.61,1360.92 L428.77,1363.72 L428.94,1366.52 L429.11,1369.32 L429.28,1372.12 L429.45,1374.92 L429.62,1377.72 L429.80,1380.52 L429.97,1383.32 L430.14,1386.12 L430.31,1388.92 L430.49,1391.72 L430.66,1394.52 L430.84,1397.32 L431.01,1400.11 L431.19,1402.91 L431.37,1405.71 L431.55,1408.51 L431.72,1411.31 L431.90,1414.11 L432.08,1416.91 L432.26,1419.71 L432.44,1422.51 L432.63,1425.31 L432.81,1428.10 L432.99,1430.90 L433.17,1433.70 L433.36,1436.50 L433.54,1439.30 L433.73,1442.10 L433.92,1444.90 L434.10,1447.69 L434.29,1450.49 L434.48,1453.29 L434.67,1456.09 L434.86,1458.89 L435.05,1461.68 L435.24,1464.48 L435.43,1467.28 L435.63,1470.08 L435.82,1472.88 L436.01,1475.67 L436.21,1478.47 L436.41,1481.27 L436.60,1484.07 L436.80,1486.86 L437.00,1489.66 L437.20,1492.46 L437.40,1495.26 L437.60,1498.05 L437.80,1500.85 L438.00,1503.65 L438.20,1506.44 L438.41,1509.24 L438.61,1512.04 L438.82,1514.83 L439.03,1517.63 L439.23,1520.43 L439.44,1523.22 L439.65,1526.02 L439.86,1528.82 L440.07,1531.61 L440.28,1534.41 L440.49,1537.20 L440.71,1540.00 L440.92,1542.80 L441.14,1545.59 L441.35,1548.39 L441.57,1551.18 L441.79,1553.98 L442.01,1556.77 L442.23,1559.57 L442.45,1562.36 L442.67,1565.16 L442.89,1567.96 L443.11,1570.75 L443.34,1573.55 L443.56,1576.34 L443.79,1579.13 L444.02,1581.93 L444.24,1584.72 L444.47,1587.52 L444.70,1590.31 L444.94,1593.11 L445.17,1595.90 L445.40,1598.70 L445.63,1601.49 L445.87,1604.28 L446.11,1607.08 L446.34,1609.87 L446.58,1612.66 L446.82,1615.46 L447.06,1618.25 L447.30,1621.05 L447.54,1623.84 L447.79,1626.63 L448.03,1629.42 L448.28,1632.22 L448.52,1635.01 L448.77,1637.80 L449.02,1640.60 L449.27,1643.39 L449.52,1646.18 L449.77,1648.97 L450.02,1651.77 L450.28,1654.56 L450.53,1657.35 L450.79,1660.14 L451.04,1662.93 L451.30,1665.73 L451.56,1668.52 L451.82,1671.31 L452.08,1674.10 L452.35,1676.89 L452.61,1679.68 L452.88,1682.47 L453.14,1685.26 L453.41,1688.06 L453.68,1690.85 L453.95,1693.64 L454.22,1696.43 L454.49,1699.22 L454.76,1702.01 L455.04,1704.80 L455.31,1707.59 L455.59,1710.38 L455.87,1713.17 L456.15,1715.96 L456.43,1718.75 L456.71,1721.54 L456.99,1724.33 L457.28,1727.11 L457.56,1729.90 L457.85,1732.69 L458.14,1735.48 L458.43,1738.27 L458.72,1741.06 L459.01,1743.85 L459.30,1746.64 L459.60,1749.42 L459.89,1752.21 L460.19,1755.00 L460.49,1757.79 L460.79,1760.58 L461.09,1763.36 L461.39,1766.15 L461.69,1768.94 L462.00,1771.73 L462.30,1774.51 L462.61,1777.30 L462.92,1780.09 L463.23,1782.87 L463.54,1785.66 L463.85,1788.45 L464.17,1791.23 L464.48,1794.02 L464.80,1796.80 L465.12,1799.59 L465.44,1802.38 L465.76,1805.16 L466.08,1807.95 L466.40,1810.73 L466.73,1813.52 L467.06,1816.30 L467.38,1819.09 L467.71,1821.87 L468.04,1824.66 L468.38,1827.44 L468.71,1830.22 L469.04,1833.01 L469.38,1835.79 L469.72,1838.58 L470.06,1841.36 L470.40,1844.14 L470.74,1846.93 L471.08,1849.71 L471.43,1852.49 L471.78,1855.28 L472.12,1858.06 L472.47,1860.84 L472.83,1863.62 L473.18,1866.41 L473.53,1869.19 L473.89,1871.97 L474.24,1874.75 L474.60,1877.54 L474.96,1880.32 L475.33,1883.10 L475.69,1885.88 L476.05,1888.66 L476.42,1891.44 L476.79,1894.22 L477.16,1897.00 L477.53,1899.78 L477.90,1902.56 L478.27,1905.34 L478.65,1908.12 L479.03,1910.90 L479.41,1913.68 L479.79,1916.46 L480.17,1919.24 L480.55,1922.02 L480.94,1924.80 L481.33,1927.58 L481.71,1930.36 L482.11,1933.14 L482.50,1935.91 L482.90,1938.69 L483.30,1941.47 L483.70,1944.24 L484.11,1947.02 L484.52,1949.79 L484.94,1952.57 L485.36,1955.34 L485.78,1958.11 L486.21,1960.89 L486.64,1963.66 L487.08,1966.43 L487.52,1969.20 L487.97,1971.96 L488.42,1974.73 L488.88,1977.50 L489.35,1980.26 L489.82,1983.02 L490.30,1985.78 L490.79,1988.54 L491.28,1991.30 L491.78,1994.06 L492.28,1996.82 L492.80,1999.57 L493.32,2002.32 L493.85,2005.07 L494.39,2007.82 L494.94,2010.57 L495.49,2013.31 L496.06,2016.06 L496.63,2018.80 L497.21,2021.54 L497.81,2024.28 L498.41,2027.01 L499.02,2029.75 L499.64,2032.48 L500.28,2035.21 L500.92,2037.93 L501.57,2040.66 L502.24,2043.38 L502.91,2046.10 L503.60,2048.81 L504.30,2051.53 L505.01,2054.24 L505.74,2056.95 L506.47,2059.65 L507.22,2062.36 L507.98,2065.06 L508.75,2067.76 L509.54,2070.45 L510.34,2073.14 L511.16,2075.83 L511.98,2078.52 L512.83,2081.20 L513.68,2083.88 L514.56,2086.55 L515.46,2089.22 L516.39,2091.87 L517.35,2094.52 L518.34,2097.15 L519.37,2099.77 L520.45,2102.38 L521.57,2104.97 L522.73,2107.53 L523.96,2110.08 L525.23,2112.61 L526.57,2115.11 L527.98,2117.59 L529.45,2120.04 L530.99,2122.46 L532.61,2124.85 L534.30,2127.21 L536.09,2129.51 L537.96,2131.71 L539.93,2133.79 L542.01,2135.71 L544.20,2137.42 L546.51,2138.91 L548.95,2140.13 L551.52,2141.05 L554.20,2141.66 L556.96,2141.97 L559.73,2141.99 L562.48,2141.74 L565.15,2141.24 L567.69,2140.50 L570.10,2139.54 L572.40,2138.38 L574.58,2137.03 L576.66,2135.50 L578.64,2133.80 L580.53,2131.97 L582.35,2130.00 L584.09,2127.92 L585.77,2125.74 L587.39,2123.47 L588.96,2121.13 L590.50,2118.74 L592.00,2116.31 L593.48,2113.85 L594.95,2111.38 L596.40,2108.91 L597.84,2106.44 L599.27,2103.96 L600.68,2101.48 L602.09,2098.99 L603.48,2096.50 L604.86,2094.00 L606.23,2091.50 L607.59,2089.00 L608.94,2086.49 L610.28,2083.98 L611.60,2081.47 L612.92,2078.95 L614.22,2076.43 L615.51,2073.91 L616.80,2071.38 L618.07,2068.85 L619.33,2066.31 L620.58,2063.77 L621.82,2061.23 L623.06,2058.68 L624.28,2056.14 L625.49,2053.58 L626.70,2051.03 L627.89,2048.47 L629.07,2045.91 L630.25,2043.35 L631.42,2040.78 L632.58,2038.21 L633.72,2035.64 L634.86,2033.06 L636.00,2030.48 L637.12,2027.90 L638.23,2025.31 L639.34,2022.73 L640.44,2020.14 L641.53,2017.54 L642.62,2014.95 L643.69,2012.35 L644.76,2009.75 L645.82,2007.15 L646.87,2004.54 L647.92,2001.94 L648.96,1999.33 L649.99,1996.72 L651.01,1994.10 L652.03,1991.49 L653.05,1988.87 L654.05,1986.25 L655.05,1983.62 L656.04,1981.00 L657.03,1978.37 L658.01,1975.74 L658.99,1973.11 L659.95,1970.48 L660.92,1967.85 L661.88,1965.21 L662.83,1962.57 L663.78,1959.93 L664.72,1957.29 L665.66,1954.65 L666.59,1952.01 L667.52,1949.36 L668.44,1946.71 L669.36,1944.07 L670.27,1941.42 L671.18,1938.76 L672.09,1936.11 L672.99,1933.46 L673.89,1930.80 L674.78,1928.15 L675.67,1925.49 L676.56,1922.83 L677.44,1920.17 L678.32,1917.51 L679.20,1914.85 L680.07,1912.19 L680.94,1909.53 L681.81,1906.86 L682.67,1904.20 L683.54,1901.53 L684.40,1898.87 L685.25,1896.20 L686.11,1893.53 L686.96,1890.87 L687.82,1888.20 L688.66,1885.53 L689.51,1882.86 L690.36,1880.19 L691.20,1877.52 L692.05,1874.85 L692.89,1872.18 L693.73,1869.51 L694.57,1866.84 L695.41,1864.17 L696.25,1861.50 L697.09,1858.83 L697.92,1856.15 L698.76,1853.48 L699.60,1850.81 L700.43,1848.14 L701.27,1845.47 L702.10,1842.80 L702.94,1840.13 L703.78,1837.46 L704.62,1834.79 L705.45,1832.12 L706.29,1829.45 L707.13,1826.78 L707.97,1824.12 L708.81,1821.45 L709.65,1818.78 L710.49,1816.11 L711.33,1813.45 L712.17,1810.78 L713.01,1808.11 L713.85,1805.45 L714.69,1802.78 L715.54,1800.12 L716.38,1797.45 L717.23,1794.79 L718.07,1792.12 L718.92,1789.46 L719.76,1786.79 L720.61,1784.13 L721.46,1781.47 L722.30,1778.80 L723.15,1776.14 L724.00,1773.48 L724.85,1770.82 L725.70,1768.16 L726.55,1765.50 L727.41,1762.83 L728.26,1760.17 L729.11,1757.51 L729.97,1754.85 L730.82,1752.19 L731.68,1749.54 L732.54,1746.88 L733.40,1744.22 L734.25,1741.56 L735.11,1738.90 L735.97,1736.24 L736.84,1733.59 L737.70,1730.93 L738.56,1728.27 L739.43,1725.62 L740.29,1722.96 L741.16,1720.31 L742.03,1717.65 L742.89,1715.00 L743.76,1712.34 L744.63,1709.69 L745.51,1707.03 L746.38,1704.38 L747.25,1701.73 L748.13,1699.07 L749.00,1696.42 L749.88,1693.77 L750.76,1691.12 L751.64,1688.47 L752.52,1685.82 L753.40,1683.17 L754.28,1680.52 L755.17,1677.87 L756.05,1675.22 L756.94,1672.57 L757.83,1669.92 L758.72,1667.27 L759.61,1664.62 L760.50,1661.97 L761.39,1659.33 L762.29,1656.68 L763.18,1654.03 L764.08,1651.39 L764.98,1648.74 L765.88,1646.09 L766.78,1643.45 L767.68,1640.80 L768.59,1638.16 L769.50,1635.52 L770.40,1632.87 L771.31,1630.23 L772.22,1627.59 L773.13,1624.94 L774.05,1622.30 L774.96,1619.66 L775.88,1617.02 L776.80,1614.38 L777.72,1611.73 L778.64,1609.09 L779.56,1606.45 L780.49,1603.81 L781.41,1601.17 L782.34,1598.54 L783.27,1595.90 L784.20,1593.26 L785.14,1590.62 L786.07,1587.98 L787.01,1585.35 L787.95,1582.71 L788.89,1580.07 L789.83,1577.44 L790.77,1574.80 L791.72,1572.17 L792.66,1569.53 L793.61,1566.90 L794.56,1564.26 L795.52,1561.63 L796.47,1559.00 L797.43,1556.36 L798.39,1553.73 L799.35,1551.10 L800.31,1548.47 L801.28,1545.84 L802.24,1543.20 L803.21,1540.57 L804.18,1537.94 L805.16,1535.31 L806.13,1532.68 L807.11,1530.06 L808.09,1527.43 L809.07,1524.80 L810.05,1522.17 L811.04,1519.54 L812.02,1516.92 L813.01,1514.29 L814.00,1511.66 L815.00,1509.04 L815.99,1506.41 L816.99,1503.79 L817.99,1501.16 L819.00,1498.54 L820.00,1495.91 L821.01,1493.29 L822.02,1490.67 L823.03,1488.05 L824.04,1485.42 L825.06,1482.80 L826.08,1480.18 L827.10,1477.56 L828.12,1474.94 L829.15,1472.32 L830.18,1469.70 L831.21,1467.08 L832.24,1464.46 L833.28,1461.84 L834.32,1459.22 L835.36,1456.61 L836.40,1453.99 L837.45,1451.37 L838.49,1448.75 L839.54,1446.14 L840.60,1443.52 L841.65,1440.91 L842.71,1438.29 L843.77,1435.68 L844.84,1433.06 L845.90,1430.45 L846.97,1427.84 L848.04,1425.23 L849.12,1422.61 L850.19,1420.00 L851.27,1417.39 L852.36,1414.78 L853.44,1412.17 L854.53,1409.56 L855.62,1406.95 L856.71,1404.34 L857.81,1401.73 L858.91,1399.12 L860.01,1396.51 L861.12,1393.91 L862.22,1391.30 L863.33,1388.69 L864.45,1386.09 L865.56,1383.48 L866.68,1380.87 L867.80,1378.27 L868.93,1375.66 L870.06,1373.06 L871.19,1370.46 L872.32,1367.85 L873.46,1365.25 L874.60,1362.65 L875.74,1360.05 L876.89,1357.45 L878.04,1354.84 L879.19,1352.24 L880.34,1349.64 L881.50,1347.05 L882.66,1344.45 L883.83,1341.85 L885.00,1339.26 L886.17,1336.66 L887.35,1334.07 L888.53,1331.48 L889.72,1328.89 L890.91,1326.30 L892.10,1323.72 L893.30,1321.13 L894.51,1318.55 L895.71,1315.97 L896.93,1313.40 L898.14,1310.82 L899.36,1308.25 L900.59,1305.68 L901.82,1303.12 L903.06,1300.55 L904.30,1297.99 L905.55,1295.44 L906.80,1292.88 L908.06,1290.33 L909.32,1287.79 L910.59,1285.24 L911.87,1282.70 L913.15,1280.17 L914.44,1277.64 L915.73,1275.11 L917.03,1272.58 L918.34,1270.07 L919.65,1267.55 L920.97,1265.04 L922.29,1262.53 L923.63,1260.03 L924.97,1257.54 L926.31,1255.05 L927.66,1252.56 L929.02,1250.08 L930.39,1247.60 L931.76,1245.13 L933.14,1242.67 L934.53,1240.21 L935.93,1237.76 L937.33,1235.31 L938.74,1232.87 L940.16,1230.43 L941.59,1228.00 L943.03,1225.58 L944.47,1223.17 L945.92,1220.76 L947.38,1218.35 L948.85,1215.96 L950.32,1213.57 L951.81,1211.18 L953.30,1208.81 L954.81,1206.44 L956.32,1204.08 L957.84,1201.73 L959.37,1199.38 L960.90,1197.04 L962.45,1194.71 L964.01,1192.39 L965.57,1190.08 L967.15,1187.77 L968.74,1185.47 L970.33,1183.18 L971.93,1180.90 L973.55,1178.63 L975.17,1176.36 L976.81,1174.11 L978.45,1171.86 L980.11,1169.63 L981.77,1167.40 L983.45,1165.18 L985.14,1162.97 L986.83,1160.77 L988.54,1158.58 L990.26,1156.40 L991.99,1154.23 L993.73,1152.07 L995.48,1149.92 L997.24,1147.77 L999.02,1145.64 L1000.80,1143.52 L1002.60,1141.41 L1004.41,1139.32 L1006.23,1137.23 L1008.06,1135.15 L1009.91,1133.08 L1011.76,1131.03 L1013.63,1128.98 L1015.51,1126.95 L1017.40,1124.93 L1019.31,1122.92 L1021.22,1120.92 L1023.15,1118.94 L1025.10,1116.96 L1027.05,1115.00 L1029.02,1113.05 L1031.00,1111.11 L1032.99,1109.18 L1035.00,1107.27 L1037.02,1105.37 L1039.05,1103.48 L1041.10,1101.60 L1043.16,1099.74 L1045.23,1097.89 L1047.32,1096.05 L1049.42,1094.23 L1051.54,1092.42 L1053.67,1090.62 L1055.81,1088.84 L1057.97,1087.07 L1060.14,1085.31 L1062.32,1083.57 L1064.52,1081.84 L1066.73,1080.13 L1068.95,1078.42 L1071.19,1076.74 L1073.44,1075.06 L1075.70,1073.40 L1077.97,1071.76 L1080.26,1070.13 L1082.56,1068.51 L1084.86,1066.91 L1087.18,1065.32 L1089.52,1063.74 L1091.86,1062.18 L1094.21,1060.63 L1096.58,1059.10 L1098.95,1057.58 L1101.34,1056.08 L1103.73,1054.59 L1106.13,1053.11 L1108.55,1051.65 L1110.97,1050.20 L1113.41,1048.77 L1115.85,1047.35 L1118.30,1045.95 L1120.76,1044.56 L1123.23,1043.19 L1125.71,1041.83 L1128.19,1040.49 L1130.69,1039.16 L1133.19,1037.84 L1135.70,1036.54 L1138.22,1035.26 L1140.74,1033.99 L1143.27,1032.73 L1145.81,1031.49 L1148.35,1030.27 L1150.91,1029.06 L1153.46,1027.86 L1156.03,1026.68 L1158.60,1025.52 L1161.17,1024.37 L1163.75,1023.24 L1166.34,1022.12 L1168.93,1021.01 L1171.53,1019.93 L1174.13,1018.85 L1176.74,1017.80 L1179.35,1016.76 L1181.96,1015.73 L1184.58,1014.72 L1187.20,1013.72 L1189.83,1012.74 L1192.46,1011.78 L1195.10,1010.83 L1197.74,1009.90 L1200.38,1008.98 L1203.03,1008.07 L1205.68,1007.18 L1208.33,1006.30 L1210.99,1005.44 L1213.65,1004.59 L1216.32,1003.75 L1218.99,1002.93 L1221.66,1002.13 L1224.34,1001.33 L1227.02,1000.55 L1229.70,999.78 L1232.39,999.03 L1235.08,998.29 L1237.77,997.56 L1240.47,996.84 L1243.17,996.14 L1245.87,995.44 L1248.57,994.76 L1251.28,994.10 L1253.99,993.44 L1256.71,992.80 L1259.43,992.17 L1262.15,991.55 L1264.87,990.94 L1267.60,990.34 L1270.33,989.75 L1273.06,989.18 L1275.79,988.61 L1278.53,988.06 L1281.27,987.51 L1284.01,986.98 L1286.76,986.46 L1289.51,985.94 L1292.26,985.44 L1295.01,984.95 L1297.76,984.46 L1300.52,983.99 L1303.28,983.53 L1306.04,983.07 L1308.80,982.63 L1311.57,982.19 L1314.34,981.76 L1317.11,981.34 L1319.88,980.93 L1322.65,980.53 L1325.43,980.14 L1328.20,979.75 L1330.98,979.37 L1333.76,979.01 L1336.55,978.64 L1339.33,978.29 L1342.12,977.94 L1344.90,977.61 L1347.69,977.27 L1350.48,976.95 L1353.28,976.63 L1356.07,976.32 L1358.86,976.02 L1361.66,975.72 L1364.46,975.43 L1367.26,975.15 L1370.06,974.87 L1372.86,974.60 L1375.66,974.33 L1378.46,974.07 L1381.27,973.81 L1384.07,973.57 L1386.88,973.32 L1389.69,973.08 L1392.49,972.85 L1395.30,972.62 L1398.11,972.40 L1400.92,972.18 L1403.73,971.96 L1406.55,971.75 L1409.36,971.55 L1412.17,971.34 L1414.98,971.15 L1417.80,970.95 L1420.61,970.76 L1423.43,970.57 L1426.24,970.39 L1429.06,970.21 L1431.87,970.03 L1434.69,969.86 L1437.50,969.69 L1440.32,969.52 L1443.14,969.35 L1445.95,969.19 L1448.77,969.03 L1451.58,968.87 L1454.40,968.71 L1457.22,968.56 L1460.03,968.41 L1462.85,968.26 L1465.66,968.11 L1468.48,967.96 L1471.29,967.81 L1474.11,967.66 L1476.92,967.52 L1479.73,967.37 L1482.54,967.23 L1485.36,967.09 L1488.17,966.95 L1490.98,966.80 L1493.79,966.66 L1496.60,966.52 L1499.41,966.38 L1502.22,966.25 L1505.03,966.11 L1507.84,965.97 L1510.64,965.83 L1513.45,965.70 L1516.26,965.56 L1519.06,965.43 L1521.87,965.29 L1524.67,965.16 L1527.48,965.03 L1530.28,964.90 L1533.09,964.76 L1535.89,964.63 L1538.70,964.50 L1541.50,964.38 L1544.30,964.25 L1547.10,964.12 L1549.91,963.99 L1552.71,963.87 L1555.51,963.74 L1558.31,963.62 L1561.11,963.49 L1563.91,963.37 L1566.71,963.25 L1569.51,963.13 L1572.31,963.01 L1575.11,962.89 L1577.91,962.77 L1580.71,962.65 L1583.50,962.53 L1586.30,962.41 L1589.10,962.30 L1591.90,962.18 L1594.69,962.07 L1597.49,961.95 L1600.29,961.84 L1603.09,961.73 L1605.88,961.62 L1608.68,961.51 L1611.47,961.40 L1614.27,961.29 L1617.07,961.18 L1619.86,961.07 L1622.66,960.97 L1625.45,960.86 L1628.25,960.75 L1631.04,960.65 L1633.84,960.55 L1636.63,960.44 L1639.43,960.34 L1642.22,960.24 L1645.01,960.14 L1647.81,960.04 L1650.60,959.94 L1653.40,959.85 L1656.19,959.75 L1658.99,959.65 L1661.78,959.56 L1664.57,959.46 L1667.37,959.37 L1670.16,959.28 L1672.95,959.19 L1675.75,959.10 L1678.54,959.01 L1681.34,958.92 L1684.13,958.83 L1686.92,958.74 L1689.72,958.65 L1692.51,958.57 L1695.30,958.48 L1698.10,958.40 L1700.89,958.32 L1703.69,958.23 L1706.48,958.15 L1709.27,958.07 L1712.07,957.99 L1714.86,957.91 L1717.66,957.84 L1720.45,957.76 L1723.25,957.68 L1726.04,957.61 L1728.84,957.54 L1731.63,957.46 L1734.43,957.39 L1737.22,957.32 L1740.02,957.25 L1742.81,957.18 L1745.61,957.11 L1748.41,957.04 L1751.20,956.98 L1754.00,956.91 L1756.79,956.84 L1759.59,956.78 L1762.39,956.72 L1765.19,956.66 L1767.98,956.59 L1770.78,956.53 L1773.58,956.48 L1776.38,956.42 L1779.18,956.36 L1781.97,956.30 L1784.77,956.25 L1787.57,956.19 L1790.37,956.14 L1793.17,956.09 L1795.97,956.04 L1798.77,955.99 L1801.57,955.94 L1804.38,955.89 L1807.18,955.84 L1809.98,955.79 L1812.78,955.75 L1815.58,955.70 L1818.39,955.66 L1821.19,955.62 L1823.99,955.58 L1826.80,955.54 L1829.60,955.50 L1832.41,955.46 L1835.21,955.42 L1838.02,955.38 L1840.83,955.35 L1843.63,955.31 L1846.44,955.28 L1849.25,955.25 L1852.06,955.22 L1854.86,955.19 L1857.67,955.16 L1860.48,955.13 L1863.29,955.10 L1866.10,955.08 L1868.91,955.05 L1871.73,955.03 L1874.54,955.00 L1877.35,954.98 L1880.16,954.96 L1882.98,954.94 L1885.79,954.92 L1888.61,954.90 L1891.42,954.89 L1894.24,954.87 L1897.05,954.86 L1899.87,954.84 L1902.69,954.83 L1905.51,954.82 L1908.33,954.81 L1911.14,954.80 L1913.96,954.79 L1916.79,954.79 L1919.61,954.78 L1922.43,954.77 L1925.25,954.77 L1928.08,954.77"/>
<path stroke="#1071b9" d="M388.39,43.99 L388.47,46.43 L388.55,48.87 L388.63,51.30 L388.70,53.74 L388.78,56.18 L388.86,58.62 L388.94,61.06 L389.02,63.50 L389.10,65.94 L389.19,68.38 L389.27,70.82 L389.35,73.26 L389.43,75.70 L389.51,78.14 L389.59,80.58 L389.67,83.02 L389.75,85.46 L389.84,87.90 L389.92,90.34 L390.00,92.78 L390.08,95.22 L390.17,97.65 L390.25,100.09 L390.33,102.53 L390.41,104.97 L390.50,107.41 L390.58,109.85 L390.67,112.29 L390.75,114.73 L390.83,117.17 L390.92,119.61 L391.00,122.05 L391.09,124.49 L391.17,126.93 L391.26,129.37 L391.34,131.80 L391.43,134.24 L391.51,136.68 L391.60,139.12 L391.68,141.56 L391.77,144.00 L391.86,146.44 L391.94,148.88 L392.03,151.32 L392.11,153.76 L392.20,156.20 L392.29,158.63 L392.38,161.07 L392.46,163.51 L392.55,165.95 L392.64,168.39 L392.73,170.83 L392.81,173.27 L392.90,175.71 L392.99,178.15 L393.08,180.59 L393.17,183.02 L393.26,185.46 L393.35,187.90 L393.44,190.34 L393.53,192.78 L393.62,195.22 L393.71,197.66 L393.80,200.10 L393.89,202.54 L393.98,204.97 L394.07,207.41 L394.16,209.85 L394.25,212.29 L394.34,214.73 L394.43,217.17 L394.52,219.61 L394.62,222.05 L394.71,224.48 L394.80,226.92 L394.89,229.36 L394.98,231.80 L395.08,234.24 L395.17,236.68 L395.26,239.12 L395.36,241.55 L395.45,243.99 L395.54,246.43 L395.64,248.87 L395.73,251.31 L395.83,253.75 L395.92,256.19 L396.01,258.62 L396.11,261.06 L396.20,263.50 L396.30,265.94 L396.39,268.38 L396.49,270.82 L396.59,273.26 L396.68,275.69 L396.78,278.13 L396.87,280.57 L396.97,283.01 L397.07,285.45 L397.16,287.89 L397.26,290.32 L397.36,292.76 L397.46,295.20 L397.55,297.64 L397.65,300.08 L397.75,302.52 L397.85,304.95 L397.95,307.39 L398.04,309.83 L398.14,312.27 L398.24,314.71 L398.34,317.15 L398.44,319.58 L398.54,322.02 L398.64,324.46 L398.74,326.90 L398.84,329.34 L398.94,331.77 L399.04,334.21 L399.14,336.65 L399.24,339.09 L399.34,341.53 L399.45,343.96 L399.55,346.40 L399.65,348.84 L399.75,351.28 L399.85,353.72 L399.96,356.15 L400.06,358.59 L400.16,361.03 L400.26,363.47 L400.37,365.91 L400.47,368.34 L400.57,370.78 L400.68,373.22 L400.78,375.66 L400.88,378.10 L400.99,380.53 L401.09,382.97 L401.20,385.41 L401.30,387.85 L401.41,390.29 L401.51,392.72 L401.62,395.16 L401.72,397.60 L401.83,400.04 L401.94,402.48 L402.04,404.91 L402.15,407.35 L402.26,409.79 L402.36,412.23 L402.47,414.66 L402.58,417.10 L402.68,419.54 L402.79,421.98 L402.90,424.41 L403.01,426.85 L403.12,429.29 L403.23,431.73 L403.33,434.17 L403.44,436.60 L403.55,439.04 L403.66,441.48 L403.77,443.92 L403.88,446.35 L403.99,448.79 L404.10,451.23 L404.21,453.67 L404.32,456.10 L404.43,458.54 L404.54,460.98 L404.65,463.42 L404.77,465.85 L404.88,468.29 L404.99,470.73 L405.10,473.17 L405.21,475.60 L405.33,478.04 L405.44,480.48 L405.55,482.92 L405.66,485.35 L405.78,487.79 L405.89,490.23 L406.01,492.67 L406.12,495.10 L406.23,497.54 L406.35,499.98 L406.46,502.41 L406.58,504.85 L406.69,507.29 L406.81,509.73 L406.92,512.16 L407.04,514.60 L407.15,517.04 L407.27,519.48 L407.39,521.91 L407.50,524.35 L407.62,526.79 L407.74,529.22 L407.85,531.66 L407.97,534.10 L408.09,536.54 L408.21,538.97 L408.32,541.41 L408.44,543.85 L408.56,546.28 L408.68,548.72 L408.80,551.16 L408.92,553.60 L409.04,556.03 L409.16,558.47 L409.27,560.91 L409.39,563.34 L409.51,565.78 L409.64,568.22 L409.76,570.65 L409.88,573.09 L410.00,575.53 L410.12,577.97 L410.24,580.40 L410.36,582.84 L410.48,585.28 L410.61,587.71 L410.73,590.15 L410.85,592.59 L410.97,595.02 L411.10,597.46 L411.22,599.90 L411.34,602.33 L411.47,604.77 L411.59,607.21 L411.71,609.64 L411.84,612.08 L411.96,614.52 L412.09,616.96 L412.21,619.39 L412.34,621.83 L412.46,624.27 L412.59,626.70 L412.71,629.14 L412.84,631.58 L412.97,634.01 L413.09,636.45 L413.22,638.89 L413.35,641.32 L413.47,643.76 L413.60,646.20 L413.73,648.63 L413.86,651.07 L413.98,653.51 L414.11,655.94 L414.24,658.38 L414.37,660.82 L414.50,663.25 L414.63,665.69 L414.76,668.12 L414.89,670.56 L415.02,673.00 L415.15,675.43 L415.28,677.87 L415.41,680.31 L415.54,682.74 L415.67,685.18 L415.80,687.62 L415.93,690.05 L416.06,692.49 L416.19,694.93 L416.33,697.36 L416.46,699.80 L416.59,702.23 L416.72,704.67 L416.86,707.11 L416.99,709.54 L417.12,711.98 L417.26,714.42 L417.39,716.85 L417.53,719.29 L417.66,721.73 L417.79,724.16 L417.93,726.60 L418.06,729.03 L418.20,731.47 L418.34,733.91 L418.47,736.34 L418.61,738.78 L418.74,741.22 L418.88,743.65 L419.02,746.09 L419.15,748.52 L419.29,750.96 L419.43,753.40 L419.57,755.83 L419.70,758.27 L419.84,760.70 L419.98,763.14 L420.12,765.58 L420.26,768.01 L420.40,770.45 L420.54,772.88 L420.68,775.32 L420.81,777.76 L420.95,780.19 L421.10,782.63 L421.24,785.06 L421.38,787.50 L421.52,789.94 L421.66,792.37 L421.80,794.81 L421.94,797.24 L422.08,799.68 L422.23,802.12 L422.37,804.55 L422.51,806.99 L422.65,809.42 L422.80,811.86 L422.94,814.30 L423.08,816.73 L423.23,819.17 L423.37,821.60 L423.51,824.04 L423.66,826.48 L423.80,828.91 L423.95,831.35 L424.09,833.78 L424.24,836.22 L424.39,838.65 L424.53,841.09 L424.68,843.53 L424.82,845.96 L424.97,848.40 L425.12,850.83 L425.26,853.27 L425.41,855.70 L425.56,858.14 L425.71,860.58 L425.86,863.01 L426.00,865.45 L426.15,867.88 L426.30,870.32 L426.45,872.75 L426.60,875.19 L426.75,877.62 L426.90,880.06 L427.05,882.50 L427.20,884.93 L427.35,887.37 L427.50,889.80 L427.65,892.24 L427.80,894.67 L427.96,897.11 L428.11,899.54 L428.26,901.98 L428.41,904.42 L428.56,906.85 L428.72,909.29 L428.87,911.72 L429.02,914.16 L429.18,916.59 L429.33,919.03 L429.48,921.46 L429.64,923.90 L429.79,926.33 L429.95,928.77 L430.10,931.20 L430.26,933.64 L430.41,936.08 L430.57,938.51 L430.73,940.95 L430.88,943.38 L431.04,945.82 L431.20,948.25 L431.35,950.69 L431.51,953.12 L431.67,955.56 L431.82,957.99 L431.98,960.43 L432.14,962.86 L432.30,965.30 L432.46,967.73 L432.62,970.17 L432.78,972.60 L432.94,975.04 L433.10,977.47 L433.26,979.91 L433.42,982.34 L433.58,984.78 L433.74,987.22 L433.90,989.65 L434.06,992.09 L434.22,994.52 L434.38,996.96 L434.55,999.39 L434.71,1001.83 L434.87,1004.26 L435.03,1006.70 L435.20,1009.13 L435.36,1011.57 L435.52,1014.00 L435.69,1016.44 L435.85,1018.87 L436.02,1021.31 L436.18,1023.74 L436.35,1026.18 L436.51,1028.61 L436.68,1031.05 L436.84,1033.48 L437.01,1035.92 L437.17,1038.35 L437.34,1040.78 L437.51,1043.22 L437.67,1045.65 L437.84,1048.09 L438.01,1050.52 L438.18,1052.96 L438.35,1055.39 L438.51,1057.83 L438.68,1060.26 L438.85,1062.70 L439.02,1065.13 L439.19,1067.57 L439.36,1070.00 L439.53,1072.44 L439.70,1074.87 L439.87,1077.31 L440.04,1079.74 L440.21,1082.18 L440.38,1084.61 L440.55,1087.05 L440.73,1089.48 L440.90,1091.92 L441.07,1094.35 L441.24,1096.78 L441.41,1099.22 L441.59,1101.65 L441.76,1104.09 L441.93,1106.52 L442.11,1108.96 L442.28,1111.39 L442.46,1113.83 L442.63,1116.26 L442.81,1118.70 L442.98,1121.13 L443.16,1123.56 L443.33,1126.00 L443.51,1128.43 L443.69,1130.87 L443.86,1133.30 L444.04,1135.74 L444.22,1138.17 L444.39,1140.61 L444.57,1143.04 L444.75,1145.48 L444.93,1147.91 L445.10,1150.34 L445.28,1152.78 L445.46,1155.21 L445.64,1157.65 L445.82,1160.08 L446.00,1162.52 L446.18,1164.95 L446.36,1167.38 L446.54,1169.82 L446.72,1172.25 L446.91,1174.69 L447.09,1177.12 L447.27,1179.56 L447.46,1181.99 L447.64,1184.42 L447.82,1186.86 L448.01,1189.29 L448.19,1191.73 L448.38,1194.16 L448.57,1196.59 L448.75,1199.03 L448.94,1201.46 L449.13,1203.89 L449.32,1206.33 L449.51,1208.76 L449.70,1211.19 L449.89,1213.63 L450.08,1216.06 L450.28,1218.49 L450.47,1220.93 L450.67,1223.36 L450.86,1225.79 L451.06,1228.23 L451.26,1230.66 L451.45,1233.09 L451.65,1235.52 L451.85,1237.96 L452.05,1240.39 L452.25,1242.82 L452.46,1245.25 L452.66,1247.68 L452.87,1250.12 L453.07,1252.55 L453.28,1254.98 L453.49,1257.41 L453.70,1259.84 L453.91,1262.27 L454.12,1264.71 L454.33,1267.14 L454.54,1269.57 L454.76,1272.00 L454.97,1274.43 L455.19,1276.86 L455.41,1279.29 L455.63,1281.72 L455.85,1284.15 L456.07,1286.58 L456.30,1289.01 L456.52,1291.44 L456.75,1293.87 L456.97,1296.30 L457.20,1298.73 L457.43,1301.15 L457.67,1303.58 L457.90,1306.01 L458.13,1308.44 L458.37,1310.87 L458.61,1313.30 L458.85,1315.72 L459.09,1318.15 L459.33,1320.58 L459.57,1323.00 L459.82,1325.43 L460.07,1327.86 L460.31,1330.28 L460.57,1332.71 L460.82,1335.14 L461.07,1337.56 L461.33,1339.99 L461.58,1342.41 L461.84,1344.84 L462.10,1347.26 L462.37,1349.69 L462.63,1352.11 L462.90,1354.54 L463.16,1356.96 L463.43,1359.39 L463.70,1361.81 L463.98,1364.23 L464.25,1366.66 L464.53,1369.08 L464.81,1371.50 L465.09,1373.92 L465.37,1376.35 L465.66,1378.77 L465.95,1381.19 L466.24,1383.61 L466.53,1386.03 L466.82,1388.45 L467.12,1390.87 L467.41,1393.29 L467.71,1395.71 L468.02,1398.13 L468.32,1400.55 L468.63,1402.97 L468.93,1405.39 L469.24,1407.81 L469.56,1410.23 L469.87,1412.65 L470.19,1415.06 L470.51,1417.48 L470.83,1419.90 L471.16,1422.32 L471.48,1424.73 L471.81,1427.15 L472.14,1429.56 L472.48,1431.98 L472.81,1434.40 L473.15,1436.81 L473.49,1439.22 L473.84,1441.64 L474.18,1444.05 L474.53,1446.47 L474.88,1448.88 L475.24,1451.29 L475.59,1453.71 L475.95,1456.12 L476.31,1458.53 L476.68,1460.94 L477.05,1463.35 L477.42,1465.76 L477.79,1468.17 L478.16,1470.58 L478.54,1472.99 L478.92,1475.40 L479.30,1477.81 L479.69,1480.22 L480.08,1482.63 L480.47,1485.04 L480.86,1487.45 L481.26,1489.85 L481.66,1492.26 L482.07,1494.67 L482.47,1497.07 L482.88,1499.48 L483.29,1501.88 L483.71,1504.29 L484.12,1506.69 L484.55,1509.10 L484.97,1511.50 L485.40,1513.90 L485.83,1516.31 L486.26,1518.71 L486.69,1521.11 L487.13,1523.51 L487.58,1525.91 L488.02,1528.32 L488.47,1530.72 L488.92,1533.12 L489.38,1535.52 L489.84,1537.91 L490.30,1540.31 L490.76,1542.71 L491.23,1545.11 L491.70,1547.51 L492.18,1549.90 L492.65,1552.30 L493.14,1554.70 L493.62,1557.09 L494.11,1559.49 L494.60,1561.88 L495.10,1564.28 L495.59,1566.67 L496.10,1569.06 L496.60,1571.46 L497.11,1573.85 L497.62,1576.24 L498.14,1578.63 L498.66,1581.02 L499.18,1583.41 L499.71,1585.80 L500.24,1588.19 L500.77,1590.58 L501.31,1592.97 L501.85,1595.36 L502.40,1597.74 L502.94,1600.13 L503.50,1602.52 L504.05,1604.90 L504.61,1607.29 L505.18,1609.67 L505.74,1612.06 L506.32,1614.44 L506.89,1616.83 L507.47,1619.21 L508.05,1621.59 L508.64,1623.97 L509.23,1626.35 L509.83,1628.74 L510.42,1631.12 L511.03,1633.49 L511.64,1635.87 L512.26,1638.24 L512.90,1640.61 L513.55,1642.97 L514.23,1645.32 L514.92,1647.66 L515.65,1649.99 L516.40,1652.31 L517.18,1654.61 L517.99,1656.89 L518.85,1659.16 L519.74,1661.41 L520.67,1663.64 L521.65,1665.84 L522.68,1668.03 L523.77,1670.18 L524.90,1672.31 L526.10,1674.42 L527.35,1676.49 L528.67,1678.53 L530.05,1680.54 L531.50,1682.52 L533.03,1684.46 L534.63,1686.36 L536.30,1688.23 L538.06,1690.05 L539.90,1691.83 L541.81,1693.54 L543.79,1695.16 L545.83,1696.67 L547.93,1698.03 L550.06,1699.23 L552.24,1700.24 L554.45,1701.03 L556.67,1701.59 L558.92,1701.89 L561.17,1701.91 L563.41,1701.67 L565.65,1701.18 L567.86,1700.46 L570.04,1699.54 L572.18,1698.44 L574.27,1697.17 L576.30,1695.75 L578.26,1694.20 L580.14,1692.55 L581.93,1690.81 L583.62,1689.00 L585.23,1687.12 L586.76,1685.19 L588.23,1683.20 L589.63,1681.17 L590.98,1679.10 L592.28,1677.01 L593.55,1674.88 L594.80,1672.74 L596.02,1670.59 L597.24,1668.44 L598.45,1666.28 L599.65,1664.12 L600.84,1661.95 L602.02,1659.79 L603.20,1657.62 L604.36,1655.45 L605.52,1653.27 L606.67,1651.09 L607.81,1648.91 L608.95,1646.73 L610.08,1644.54 L611.20,1642.35 L612.31,1640.16 L613.41,1637.97 L614.51,1635.77 L615.60,1633.57 L616.68,1631.37 L617.76,1629.16 L618.82,1626.96 L619.89,1624.75 L620.94,1622.54 L621.99,1620.32 L623.03,1618.10 L624.06,1615.89 L625.09,1613.66 L626.11,1611.44 L627.12,1609.21 L628.13,1606.99 L629.13,1604.75 L630.13,1602.52 L631.11,1600.29 L632.10,1598.05 L633.07,1595.81 L634.04,1593.57 L635.01,1591.32 L635.96,1589.08 L636.92,1586.83 L637.86,1584.58 L638.80,1582.33 L639.74,1580.07 L640.67,1577.82 L641.59,1575.56 L642.51,1573.30 L643.42,1571.04 L644.33,1568.78 L645.23,1566.51 L646.13,1564.24 L647.03,1561.97 L647.91,1559.70 L648.80,1557.43 L649.67,1555.16 L650.55,1552.88 L651.42,1550.60 L652.28,1548.32 L653.14,1546.04 L654.00,1543.76 L654.85,1541.48 L655.69,1539.19 L656.53,1536.90 L657.37,1534.62 L658.21,1532.33 L659.04,1530.03 L659.86,1527.74 L660.68,1525.45 L661.50,1523.15 L662.32,1520.85 L663.13,1518.56 L663.93,1516.26 L664.74,1513.96 L665.54,1511.65 L666.33,1509.35 L667.13,1507.05 L667.92,1504.74 L668.71,1502.43 L669.49,1500.12 L670.27,1497.82 L671.05,1495.51 L671.82,1493.19 L672.60,1490.88 L673.36,1488.57 L674.13,1486.25 L674.90,1483.94 L675.66,1481.62 L676.42,1479.31 L677.17,1476.99 L677.93,1474.67 L678.68,1472.35 L679.43,1470.03 L680.18,1467.71 L680.93,1465.39 L681.67,1463.06 L682.41,1460.74 L683.15,1458.42 L683.89,1456.09 L684.63,1453.77 L685.36,1451.44 L686.10,1449.11 L686.83,1446.79 L687.56,1444.46 L688.29,1442.13 L689.02,1439.80 L689.75,1437.47 L690.47,1435.14 L691.20,1432.81 L691.92,1430.48 L692.65,1428.15 L693.37,1425.82 L694.09,1423.49 L694.81,1421.16 L695.54,1418.83 L696.26,1416.50 L696.98,1414.16 L697.70,1411.83 L698.41,1409.50 L699.13,1407.17 L699.85,1404.83 L700.57,1402.50 L701.29,1400.17 L702.01,1397.83 L702.73,1395.50 L703.45,1393.17 L704.17,1390.83 L704.89,1388.50 L705.61,1386.17 L706.33,1383.84 L707.05,1381.50 L707.77,1379.17 L708.49,1376.84 L709.22,1374.50 L709.94,1372.17 L710.66,1369.84 L711.39,1367.51 L712.11,1365.18 L712.83,1362.84 L713.56,1360.51 L714.28,1358.18 L715.01,1355.85 L715.73,1353.52 L716.46,1351.18 L717.19,1348.85 L717.91,1346.52 L718.64,1344.19 L719.37,1341.86 L720.10,1339.53 L720.83,1337.20 L721.55,1334.87 L722.28,1332.53 L723.01,1330.20 L723.74,1327.87 L724.47,1325.54 L725.20,1323.21 L725.94,1320.88 L726.67,1318.55 L727.40,1316.22 L728.13,1313.89 L728.86,1311.56 L729.60,1309.23 L730.33,1306.90 L731.07,1304.57 L731.80,1302.24 L732.53,1299.92 L733.27,1297.59 L734.01,1295.26 L734.74,1292.93 L735.48,1290.60 L736.21,1288.27 L736.95,1285.94 L737.69,1283.62 L738.43,1281.29 L739.17,1278.96 L739.90,1276.63 L740.64,1274.30 L741.38,1271.98 L742.12,1269.65 L742.86,1267.32 L743.60,1265.00 L744.34,1262.67 L745.09,1260.34 L745.83,1258.02 L746.57,1255.69 L747.31,1253.36 L748.06,1251.04 L748.80,1248.71 L749.54,1246.39 L750.29,1244.06 L751.03,1241.73 L751.78,1239.41 L752.52,1237.08 L753.27,1234.76 L754.01,1232.43 L754.76,1230.11 L755.51,1227.79 L756.26,1225.46 L757.00,1223.14 L757.75,1220.81 L758.50,1218.49 L759.25,1216.17 L760.00,1213.84 L760.75,1211.52 L761.50,1209.20 L762.25,1206.88 L763.00,1204.55 L763.75,1202.23 L764.50,1199.91 L765.26,1197.59 L766.01,1195.27 L766.76,1192.95 L767.52,1190.62 L768.27,1188.30 L769.02,1185.98 L769.78,1183.66 L770.53,1181.34 L771.29,1179.02 L772.04,1176.70 L772.80,1174.38 L773.56,1172.06 L774.31,1169.74 L775.07,1167.43 L775.83,1165.11 L776.59,1162.79 L777.35,1160.47 L778.11,1158.15 L778.87,1155.84 L779.63,1153.52 L780.39,1151.20 L781.15,1148.88 L781.91,1146.57 L782.67,1144.25 L783.43,1141.93 L784.19,1139.62 L784.96,1137.30 L785.72,1134.99 L786.48,1132.67 L787.25,1130.36 L788.01,1128.04 L788.78,1125.73 L789.54,1123.41 L790.31,1121.10 L791.07,1118.79 L791.84,1116.47 L792.61,1114.16 L793.38,1111.85 L794.14,1109.53 L794.91,1107.22 L795.68,1104.91 L796.45,1102.60 L797.23,1100.29 L798.00,1097.98 L798.77,1095.66 L799.55,1093.35 L800.32,1091.04 L801.10,1088.73 L801.87,1086.43 L802.65,1084.12 L803.43,1081.81 L804.21,1079.50 L804.99,1077.19 L805.77,1074.88 L806.56,1072.58 L807.34,1070.27 L808.13,1067.97 L808.91,1065.66 L809.70,1063.35 L810.49,1061.05 L811.28,1058.74 L812.07,1056.44 L812.87,1054.14 L813.66,1051.83 L814.46,1049.53 L815.26,1047.23 L816.05,1044.93 L816.86,1042.63 L817.66,1040.32 L818.46,1038.02 L819.27,1035.72 L820.07,1033.42 L820.88,1031.13 L821.69,1028.83 L822.51,1026.53 L823.32,1024.23 L824.14,1021.94 L824.95,1019.64 L825.77,1017.34 L826.60,1015.05 L827.42,1012.75 L828.24,1010.46 L829.07,1008.16 L829.90,1005.87 L830.73,1003.58 L831.57,1001.29 L832.40,999.00 L833.24,996.70 L834.08,994.41 L834.92,992.12 L835.77,989.84 L836.61,987.55 L837.46,985.26 L838.31,982.97 L839.17,980.68 L840.02,978.40 L840.88,976.11 L841.74,973.83 L842.61,971.54 L843.47,969.26 L844.34,966.98 L845.21,964.70 L846.09,962.41 L846.96,960.13 L847.84,957.85 L848.72,955.57 L849.61,953.29 L850.50,951.02 L851.39,948.74 L852.28,946.46 L853.17,944.19 L854.07,941.91 L854.97,939.64 L855.88,937.36 L856.79,935.09 L857.70,932.82 L858.61,930.55 L859.53,928.27 L860.45,926.00 L861.37,923.73 L862.29,921.47 L863.22,919.20 L864.16,916.93 L865.09,914.66 L866.03,912.40 L866.97,910.13 L867.92,907.87 L868.87,905.61 L869.82,903.35 L870.78,901.08 L871.74,898.83 L872.73,896.58 L873.72,894.34 L874.74,892.11 L875.79,889.89 L876.86,887.68 L877.97,885.50 L879.12,883.33 L880.31,881.18 L881.54,879.06 L882.82,876.96 L884.16,874.89 L885.55,872.85 L887.00,870.85 L888.52,868.87 L890.11,866.94 L891.78,865.04 L893.50,863.19 L895.30,861.42 L897.15,859.72 L899.05,858.11 L901.01,856.61 L903.01,855.22 L905.05,853.97 L907.13,852.86 L909.24,851.91 L911.38,851.13 L913.53,850.53 L915.71,850.13 L917.90,849.93 L920.10,849.95 L922.31,850.16 L924.52,850.55 L926.74,851.11 L928.96,851.82 L931.18,852.67 L933.40,853.64 L935.62,854.72 L937.84,855.90 L940.05,857.15 L942.25,858.48 L944.44,859.85 L946.62,861.27 L948.79,862.71 L950.94,864.16 L953.07,865.60 L955.19,867.03 L957.29,868.44 L959.38,869.83 L961.45,871.21 L963.51,872.56 L965.56,873.91 L967.61,875.23 L969.66,876.54 L971.70,877.84 L973.74,879.12 L975.78,880.39 L977.83,881.65 L979.89,882.90 L981.95,884.14 L984.02,885.37 L986.10,886.58 L988.19,887.79 L990.29,888.99 L992.39,890.18 L994.50,891.35 L996.62,892.52 L998.75,893.67 L1000.88,894.82 L1003.02,895.95 L1005.17,897.08 L1007.33,898.19 L1009.49,899.30 L1011.66,900.39 L1013.84,901.47 L1016.02,902.54 L1018.21,903.61 L1020.41,904.66 L1022.61,905.70 L1024.82,906.73 L1027.04,907.75 L1029.26,908.76 L1031.48,909.76 L1033.72,910.74 L1035.96,911.72 L1038.20,912.69 L1040.45,913.64 L1042.70,914.59 L1044.96,915.52 L1047.23,916.45 L1049.50,917.36 L1051.77,918.26 L1054.05,919.15 L1056.34,920.04 L1058.63,920.91 L1060.92,921.76 L1063.22,922.61 L1065.52,923.45 L1067.82,924.28 L1070.13,925.09 L1072.45,925.90 L1074.76,926.69 L1077.09,927.48 L1079.41,928.25 L1081.74,929.01 L1084.07,929.76 L1086.40,930.50 L1088.74,931.23 L1091.08,931.95 L1093.42,932.65 L1095.77,933.35 L1098.12,934.04 L1100.47,934.71 L1102.82,935.37 L1105.18,936.02 L1107.54,936.66 L1109.90,937.29 L1112.26,937.91 L1114.62,938.52 L1116.99,939.11 L1119.36,939.70 L1121.73,940.27 L1124.10,940.84 L1126.47,941.39 L1128.84,941.93 L1131.22,942.47 L1133.60,942.99 L1135.98,943.50 L1138.36,944.00 L1140.75,944.50 L1143.13,944.98 L1145.52,945.45 L1147.91,945.92 L1150.30,946.37 L1152.69,946.81 L1155.08,947.25 L1157.48,947.67 L1159.87,948.09 L1162.27,948.50 L1164.67,948.90 L1167.07,949.29 L1169.47,949.67 L1171.88,950.04 L1174.28,950.40 L1176.69,950.76 L1179.10,951.11 L1181.51,951.45 L1183.92,951.78 L1186.33,952.10 L1188.74,952.41 L1191.16,952.72 L1193.57,953.02 L1195.99,953.31 L1198.41,953.60 L1200.82,953.87 L1203.24,954.14 L1205.67,954.40 L1208.09,954.66 L1210.51,954.91 L1212.94,955.15 L1215.36,955.38 L1217.79,955.61 L1220.22,955.83 L1222.64,956.05 L1225.07,956.25 L1227.50,956.45 L1229.93,956.65 L1232.37,956.84 L1234.80,957.02 L1237.23,957.20 L1239.67,957.37 L1242.10,957.54 L1244.54,957.70 L1246.98,957.85 L1249.41,958.00 L1251.85,958.15 L1254.29,958.28 L1256.73,958.42 L1259.17,958.55 L1261.61,958.67 L1264.05,958.79 L1266.50,958.90 L1268.94,959.01 L1271.38,959.12 L1273.83,959.22 L1276.27,959.31 L1278.72,959.41 L1281.16,959.49 L1283.61,959.58 L1286.05,959.66 L1288.50,959.73 L1290.95,959.81 L1293.39,959.88 L1295.84,959.94 L1298.29,960.00 L1300.74,960.06 L1303.18,960.12 L1305.63,960.17 L1308.08,960.22 L1310.53,960.27 L1312.98,960.31 L1315.43,960.35 L1317.88,960.39 L1320.33,960.42 L1322.78,960.46 L1325.23,960.49 L1327.68,960.52 L1330.13,960.54 L1332.58,960.57 L1335.03,960.59 L1337.48,960.61 L1339.93,960.63 L1342.38,960.65 L1344.83,960.67 L1347.28,960.68 L1349.73,960.69 L1352.17,960.71 L1354.62,960.72 L1357.07,960.73 L1359.52,960.74 L1361.97,960.74 L1364.42,960.75 L1366.87,960.76 L1369.31,960.76 L1371.76,960.77 L1374.21,960.77 L1376.65,960.78 L1379.10,960.78 L1381.55,960.78 L1383.99,960.78 L1386.44,960.79 L1388.88,960.79 L1391.33,960.79 L1393.78,960.78 L1396.22,960.78 L1398.66,960.78 L1401.11,960.78 L1403.55,960.77 L1406.00,960.77 L1408.44,960.76 L1410.89,960.76 L1413.33,960.75 L1415.77,960.74 L1418.22,960.73 L1420.66,960.72 L1423.10,960.71 L1425.54,960.70 L1427.99,960.69 L1430.43,960.68 L1432.87,960.67 L1435.31,960.66 L1437.75,960.65 L1440.20,960.63 L1442.64,960.62 L1445.08,960.60 L1447.52,960.59 L1449.96,960.57 L1452.40,960.56 L1454.84,960.54 L1457.28,960.52 L1459.72,960.50 L1462.16,960.48 L1464.60,960.46 L1467.04,960.44 L1469.48,960.42 L1471.92,960.40 L1474.36,960.38 L1476.80,960.36 L1479.24,960.34 L1481.67,960.32 L1484.11,960.29 L1486.55,960.27 L1488.99,960.24 L1491.43,960.22 L1493.87,960.19 L1496.30,960.17 L1498.74,960.14 L1501.18,960.12 L1503.62,960.09 L1506.05,960.06 L1508.49,960.03 L1510.93,960.01 L1513.37,959.98 L1515.80,959.95 L1518.24,959.92 L1520.68,959.89 L1523.11,959.86 L1525.55,959.83 L1527.99,959.80 L1530.42,959.77 L1532.86,959.74 L1535.30,959.70 L1537.73,959.67 L1540.17,959.64 L1542.60,959.61 L1545.04,959.57 L1547.48,959.54 L1549.91,959.51 L1552.35,959.47 L1554.78,959.44 L1557.22,959.40 L1559.65,959.37 L1562.09,959.33 L1564.53,959.30 L1566.96,959.26 L1569.40,959.22 L1571.83,959.19 L1574.27,959.15 L1576.70,959.11 L1579.14,959.08 L1581.57,959.04 L1584.01,959.00 L1586.44,958.96 L1588.88,958.92 L1591.31,958.89 L1593.75,958.85 L1596.18,958.81 L1598.62,958.77 L1601.05,958.73 L1603.49,958.69 L1605.92,958.65 L1608.35,958.61 L1610.79,958.57 L1613.22,958.53 L1615.66,958.49 L1618.09,958.45 L1620.53,958.41 L1622.96,958.37 L1625.40,958.33 L1627.83,958.29 L1630.27,958.25 L1632.70,958.21 L1635.14,958.17 L1637.57,958.12 L1640.00,958.08 L1642.44,958.04 L1644.87,958.00 L1647.31,957.96 L1649.74,957.92 L1652.18,957.87 L1654.61,957.83 L1657.05,957.79 L1659.48,957.75 L1661.92,957.71 L1664.35,957.67 L1666.79,957.62 L1669.22,957.58 L1671.66,957.54 L1674.09,957.50 L1676.53,957.46 L1678.96,957.41 L1681.40,957.37 L1683.83,957.33 L1686.27,957.29 L1688.70,957.25 L1691.14,957.20 L1693.57,957.16 L1696.01,957.12 L1698.44,957.08 L1700.88,957.04 L1703.32,957.00 L1705.75,956.95 L1708.19,956.91 L1710.62,956.87 L1713.06,956.83 L1715.50,956.79 L1717.93,956.75 L1720.37,956.71 L1722.80,956.67 L1725.24,956.63 L1727.68,956.59 L1730.11,956.55 L1732.55,956.50 L1734.99,956.46 L1737.42,956.42 L1739.86,956.38 L1742.30,956.35 L1744.74,956.31 L1747.17,956.27 L1749.61,956.23 L1752.05,956.19 L1754.49,956.15 L1756.92,956.11 L1759.36,956.07 L1761.80,956.04 L1764.24,956.00 L1766.68,955.96 L1769.11,955.92 L1771.55,955.89 L1773.99,955.85 L1776.43,955.81 L1778.87,955.78 L1781.31,955.74 L1783.75,955.70 L1786.19,955.67 L1788.63,955.63 L1791.07,955.60 L1793.51,955.56 L1795.95,955.53 L1798.39,955.49 L1800.83,955.46 L1803.27,955.43 L1805.71,955.39 L1808.15,955.36 L1810.59,955.33 L1813.03,955.30 L1815.47,955.26 L1817.92,955.23 L1820.36,955.20 L1822.80,955.17 L1825.24,955.14 L1827.68,955.11 L1830.13,955.08 L1832.57,955.05 L1835.01,955.02 L1837.46,955.00 L1839.90,954.97 L1842.34,954.94 L1844.79,954.91 L1847.23,954.89 L1849.67,954.86 L1852.12,954.83 L1854.56,954.81 L1857.01,954.78 L1859.45,954.76 L1861.90,954.74 L1864.34,954.71 L1866.79,954.69 L1869.24,954.67 L1871.68,954.64 L1874.13,954.62 L1876.57,954.60 L1879.02,954.58 L1881.47,954.56 L1883.92,954.54 L1886.36,954.52 L1888.81,954.50 L1891.26,954.49 L1893.71,954.47 L1896.16,954.45 L1898.60,954.44 L1901.05,954.42 L1903.50,954.40 L1905.95,954.39 L1908.40,954.38 L1910.85,954.36 L1913.30,954.35 L1915.75,954.34 L1918.20,954.33 L1920.66,954.32 L1923.11,954.31 L1925.56,954.30 L1928.01,954.29"/>
<path stroke="#1fb04e" d="M406.18,44.05 L406.29,46.14 L406.40,48.23 L406.51,50.32 L406.62,52.41 L406.73,54.50 L406.84,56.59 L406.95,58.68 L407.06,60.77 L407.17,62.86 L407.28,64.95 L407.39,67.04 L407.49,69.13 L407.60,71.22 L407.71,73.31 L407.82,75.40 L407.93,77.49 L408.04,79.58 L408.15,81.67 L408.25,83.76 L408.36,85.85 L408.47,87.94 L408.58,90.03 L408.68,92.12 L408.79,94.21 L408.90,96.31 L409.01,98.40 L409.12,100.49 L409.22,102.58 L409.33,104.67 L409.44,106.76 L409.54,108.85 L409.65,110.94 L409.76,113.03 L409.86,115.12 L409.97,117.21 L410.08,119.30 L410.19,121.39 L410.29,123.48 L410.40,125.58 L410.51,127.67 L410.61,129.76 L410.72,131.85 L410.82,133.94 L410.93,136.03 L411.04,138.12 L411.14,140.21 L411.25,142.30 L411.36,144.40 L411.46,146.49 L411.57,148.58 L411.67,150.67 L411.78,152.76 L411.89,154.85 L411.99,156.94 L412.10,159.04 L412.21,161.13 L412.31,163.22 L412.42,165.31 L412.52,167.40 L412.63,169.49 L412.74,171.58 L412.84,173.68 L412.95,175.77 L413.05,177.86 L413.16,179.95 L413.27,182.04 L413.37,184.13 L413.48,186.23 L413.58,188.32 L413.69,190.41 L413.80,192.50 L413.90,194.59 L414.01,196.69 L414.11,198.78 L414.22,200.87 L414.33,202.96 L414.43,205.05 L414.54,207.15 L414.65,209.24 L414.75,211.33 L414.86,213.42 L414.96,215.51 L415.07,217.61 L415.18,219.70 L415.28,221.79 L415.39,223.88 L415.50,225.97 L415.60,228.07 L415.71,230.16 L415.82,232.25 L415.92,234.34 L416.03,236.43 L416.14,238.53 L416.24,240.62 L416.35,242.71 L416.46,244.80 L416.57,246.90 L416.67,248.99 L416.78,251.08 L416.89,253.17 L416.99,255.27 L417.10,257.36 L417.21,259.45 L417.32,261.54 L417.43,263.63 L417.53,265.73 L417.64,267.82 L417.75,269.91 L417.86,272.00 L417.97,274.10 L418.07,276.19 L418.18,278.28 L418.29,280.37 L418.40,282.47 L418.51,284.56 L418.62,286.65 L418.73,288.74 L418.84,290.84 L418.94,292.93 L419.05,295.02 L419.16,297.11 L419.27,299.21 L419.38,301.30 L419.49,303.39 L419.60,305.48 L419.71,307.58 L419.82,309.67 L419.93,311.76 L420.04,313.85 L420.15,315.95 L420.27,318.04 L420.38,320.13 L420.49,322.22 L420.60,324.32 L420.71,326.41 L420.82,328.50 L420.93,330.60 L421.04,332.69 L421.16,334.78 L421.27,336.87 L421.38,338.97 L421.49,341.06 L421.61,343.15 L421.72,345.24 L421.83,347.34 L421.94,349.43 L422.06,351.52 L422.17,353.61 L422.28,355.71 L422.40,357.80 L422.51,359.89 L422.63,361.98 L422.74,364.08 L422.86,366.17 L422.97,368.26 L423.09,370.35 L423.20,372.45 L423.32,374.54 L423.43,376.63 L423.55,378.72 L423.66,380.82 L423.78,382.91 L423.90,385.00 L424.01,387.09 L424.13,389.19 L424.25,391.28 L424.36,393.37 L424.48,395.46 L424.60,397.56 L424.72,399.65 L424.83,401.74 L424.95,403.83 L425.07,405.93 L425.19,408.02 L425.31,410.11 L425.43,412.20 L425.55,414.30 L425.67,416.39 L425.79,418.48 L425.91,420.57 L426.03,422.67 L426.15,424.76 L426.27,426.85 L426.39,428.94 L426.51,431.03 L426.63,433.13 L426.75,435.22 L426.88,437.31 L427.00,439.40 L427.12,441.50 L427.24,443.59 L427.37,445.68 L427.49,447.77 L427.61,449.86 L427.74,451.96 L427.86,454.05 L427.99,456.14 L428.11,458.23 L428.24,460.33 L428.36,462.42 L428.49,464.51 L428.61,466.60 L428.74,468.69 L428.87,470.79 L428.99,472.88 L429.12,474.97 L429.25,477.06 L429.38,479.15 L429.50,481.25 L429.63,483.34 L429.76,485.43 L429.89,487.52 L430.02,489.61 L430.15,491.70 L430.28,493.80 L430.41,495.89 L430.54,497.98 L430.67,500.07 L430.80,502.16 L430.93,504.25 L431.07,506.35 L431.20,508.44 L431.33,510.53 L431.46,512.62 L431.60,514.71 L431.73,516.80 L431.86,518.90 L432.00,520.99 L432.13,523.08 L432.27,525.17 L432.40,527.26 L432.54,529.35 L432.67,531.44 L432.81,533.53 L432.95,535.63 L433.08,537.72 L433.22,539.81 L433.36,541.90 L433.50,543.99 L433.63,546.08 L433.77,548.17 L433.91,550.26 L434.05,552.35 L434.19,554.45 L434.33,556.54 L434.47,558.63 L434.61,560.72 L434.76,562.81 L434.90,564.90 L435.04,566.99 L435.18,569.08 L435.33,571.17 L435.47,573.26 L435.61,575.35 L435.76,577.44 L435.90,579.54 L436.05,581.63 L436.19,583.72 L436.34,585.81 L436.48,587.90 L436.63,589.99 L436.78,592.08 L436.92,594.17 L437.07,596.26 L437.22,598.35 L437.37,600.44 L437.52,602.53 L437.67,604.62 L437.82,606.71 L437.97,608.80 L438.12,610.89 L438.27,612.98 L438.42,615.07 L438.57,617.16 L438.73,619.25 L438.88,621.34 L439.03,623.43 L439.19,625.52 L439.34,627.61 L439.50,629.70 L439.65,631.79 L439.81,633.88 L439.96,635.97 L440.12,638.06 L440.28,640.15 L440.43,642.23 L440.59,644.32 L440.75,646.41 L440.91,648.50 L441.07,650.59 L441.23,652.68 L441.39,654.77 L441.55,656.86 L441.71,658.95 L441.87,661.04 L442.04,663.13 L442.20,665.21 L442.36,667.30 L442.53,669.39 L442.69,671.48 L442.85,673.57 L443.02,675.66 L443.19,677.75 L443.35,679.84 L443.52,681.92 L443.69,684.01 L443.85,686.10 L444.02,688.19 L444.19,690.28 L444.36,692.37 L444.53,694.45 L444.70,696.54 L444.87,698.63 L445.04,700.72 L445.21,702.81 L445.39,704.89 L445.56,706.98 L445.73,709.07 L445.91,711.16 L446.08,713.25 L446.26,715.33 L446.43,717.42 L446.61,719.51 L446.78,721.60 L446.96,723.68 L447.14,725.77 L447.32,727.86 L447.50,729.94 L447.68,732.03 L447.86,734.12 L448.04,736.21 L448.22,738.29 L448.40,740.38 L448.58,742.47 L448.76,744.55 L448.95,746.64 L449.13,748.73 L449.31,750.81 L449.50,752.90 L449.69,754.99 L449.87,757.07 L450.06,759.16 L450.25,761.25 L450.43,763.33 L450.62,765.42 L450.81,767.51 L451.00,769.59 L451.19,771.68 L451.38,773.76 L451.57,775.85 L451.77,777.94 L451.96,780.02 L452.15,782.11 L452.35,784.19 L452.54,786.28 L452.73,788.36 L452.93,790.45 L453.13,792.53 L453.32,794.62 L453.52,796.71 L453.72,798.79 L453.92,800.88 L454.12,802.96 L454.32,805.05 L454.52,807.13 L454.72,809.22 L454.92,811.30 L455.12,813.39 L455.33,815.47 L455.53,817.55 L455.73,819.64 L455.94,821.72 L456.15,823.81 L456.35,825.89 L456.56,827.98 L456.77,830.06 L456.98,832.14 L457.18,834.23 L457.39,836.31 L457.60,838.40 L457.81,840.48 L458.03,842.56 L458.24,844.65 L458.45,846.73 L458.67,848.81 L458.88,850.90 L459.09,852.98 L459.31,855.06 L459.53,857.15 L459.74,859.23 L459.96,861.31 L460.18,863.40 L460.40,865.48 L460.62,867.56 L460.84,869.65 L461.06,871.73 L461.28,873.81 L461.50,875.89 L461.73,877.98 L461.95,880.06 L462.18,882.14 L462.40,884.22 L462.63,886.30 L462.85,888.39 L463.08,890.47 L463.31,892.55 L463.54,894.63 L463.77,896.71 L464.00,898.80 L464.23,900.88 L464.46,902.96 L464.69,905.04 L464.93,907.12 L465.16,909.20 L465.39,911.28 L465.63,913.36 L465.87,915.45 L466.10,917.53 L466.34,919.61 L466.58,921.69 L466.82,923.77 L467.06,925.85 L467.30,927.93 L467.54,930.01 L467.78,932.09 L468.02,934.17 L468.27,936.25 L468.51,938.33 L468.76,940.41 L469.00,942.49 L469.25,944.57 L469.50,946.65 L469.74,948.73 L469.99,950.81 L470.24,952.89 L470.49,954.97 L470.75,957.05 L471.00,959.13 L471.25,961.20 L471.50,963.28 L471.76,965.36 L472.01,967.44 L472.27,969.52 L472.53,971.60 L472.78,973.68 L473.04,975.76 L473.30,977.83 L473.56,979.91 L473.82,981.99 L474.08,984.07 L474.34,986.15 L474.61,988.22 L474.87,990.30 L475.14,992.38 L475.40,994.46 L475.67,996.53 L475.94,998.61 L476.20,1000.69 L476.47,1002.77 L476.74,1004.84 L477.01,1006.92 L477.28,1009.00 L477.56,1011.07 L477.83,1013.15 L478.10,1015.23 L478.38,1017.30 L478.65,1019.38 L478.93,1021.46 L479.21,1023.53 L479.48,1025.61 L479.76,1027.68 L480.04,1029.76 L480.33,1031.84 L480.61,1033.91 L480.89,1035.99 L481.18,1038.06 L481.47,1040.14 L481.76,1042.21 L482.05,1044.28 L482.34,1046.36 L482.64,1048.43 L482.94,1050.50 L483.24,1052.58 L483.54,1054.65 L483.85,1056.72 L484.15,1058.79 L484.46,1060.86 L484.78,1062.93 L485.09,1065.00 L485.41,1067.07 L485.73,1069.14 L486.06,1071.21 L486.39,1073.28 L486.72,1075.35 L487.06,1077.41 L487.39,1079.48 L487.74,1081.54 L488.08,1083.61 L488.43,1085.67 L488.79,1087.74 L489.15,1089.80 L489.51,1091.86 L489.87,1093.92 L490.24,1095.98 L490.62,1098.04 L491.00,1100.10 L491.38,1102.16 L491.77,1104.22 L492.17,1106.27 L492.57,1108.33 L492.97,1110.38 L493.38,1112.44 L493.79,1114.49 L494.21,1116.54 L494.64,1118.59 L495.07,1120.64 L495.50,1122.69 L495.95,1124.74 L496.39,1126.79 L496.85,1128.83 L497.31,1130.88 L497.77,1132.92 L498.24,1134.96 L498.72,1137.01 L499.21,1139.05 L499.70,1141.09 L500.19,1143.12 L500.70,1145.16 L501.21,1147.20 L501.73,1149.23 L502.25,1151.26 L502.78,1153.30 L503.32,1155.33 L503.87,1157.36 L504.42,1159.38 L504.99,1161.41 L505.55,1163.43 L506.13,1165.46 L506.71,1167.48 L507.31,1169.50 L507.91,1171.52 L508.52,1173.54 L509.13,1175.56 L509.76,1177.57 L510.39,1179.58 L511.03,1181.60 L511.68,1183.61 L512.34,1185.62 L513.01,1187.62 L513.68,1189.63 L514.37,1191.63 L515.06,1193.64 L515.76,1195.64 L516.48,1197.63 L517.20,1199.63 L517.93,1201.63 L518.67,1203.62 L519.42,1205.61 L520.18,1207.60 L520.95,1209.59 L521.73,1211.58 L522.52,1213.56 L523.32,1215.55 L524.13,1217.53 L524.95,1219.51 L525.78,1221.49 L526.63,1223.46 L527.50,1225.41 L528.40,1227.35 L529.35,1229.25 L530.35,1231.11 L531.40,1232.93 L532.53,1234.69 L533.73,1236.38 L535.02,1238.00 L536.41,1239.55 L537.90,1241.00 L539.50,1242.36 L541.18,1243.62 L542.95,1244.77 L544.78,1245.81 L546.66,1246.74 L548.59,1247.54 L550.53,1248.21 L552.49,1248.75 L554.45,1249.15 L556.39,1249.40 L558.31,1249.51 L560.19,1249.46 L562.02,1249.27 L563.82,1248.93 L565.58,1248.46 L567.30,1247.85 L568.98,1247.13 L570.63,1246.28 L572.25,1245.33 L573.83,1244.27 L575.39,1243.11 L576.91,1241.87 L578.40,1240.53 L579.87,1239.12 L581.31,1237.64 L582.73,1236.09 L584.12,1234.49 L585.49,1232.83 L586.83,1231.12 L588.16,1229.38 L589.47,1227.60 L590.76,1225.79 L592.03,1223.97 L593.29,1222.12 L594.53,1220.28 L595.76,1218.42 L596.97,1216.57 L598.18,1214.72 L599.37,1212.86 L600.54,1211.00 L601.71,1209.14 L602.86,1207.27 L604.00,1205.41 L605.13,1203.54 L606.24,1201.67 L607.34,1199.79 L608.44,1197.92 L609.52,1196.04 L610.58,1194.17 L611.64,1192.29 L612.69,1190.40 L613.72,1188.52 L614.75,1186.63 L615.76,1184.75 L616.76,1182.86 L617.76,1180.96 L618.74,1179.07 L619.71,1177.18 L620.68,1175.28 L621.63,1173.38 L622.57,1171.48 L623.51,1169.58 L624.43,1167.67 L625.35,1165.77 L626.25,1163.86 L627.15,1161.95 L628.04,1160.04 L628.92,1158.13 L629.79,1156.21 L630.65,1154.30 L631.51,1152.38 L632.36,1150.46 L633.20,1148.54 L634.03,1146.62 L634.85,1144.70 L635.67,1142.77 L636.48,1140.85 L637.28,1138.92 L638.08,1136.99 L638.87,1135.06 L639.65,1133.13 L640.43,1131.20 L641.20,1129.26 L641.96,1127.33 L642.72,1125.39 L643.47,1123.45 L644.22,1121.51 L644.96,1119.57 L645.70,1117.63 L646.43,1115.69 L647.15,1113.74 L647.87,1111.80 L648.59,1109.85 L649.30,1107.90 L650.01,1105.95 L650.71,1104.00 L651.41,1102.05 L652.10,1100.10 L652.79,1098.15 L653.48,1096.19 L654.16,1094.23 L654.84,1092.28 L655.52,1090.32 L656.19,1088.36 L656.86,1086.40 L657.53,1084.44 L658.19,1082.48 L658.86,1080.52 L659.52,1078.56 L660.17,1076.59 L660.83,1074.63 L661.48,1072.66 L662.14,1070.70 L662.79,1068.73 L663.44,1066.76 L664.08,1064.79 L664.73,1062.82 L665.38,1060.85 L666.02,1058.88 L666.67,1056.91 L667.31,1054.94 L667.95,1052.96 L668.60,1050.99 L669.24,1049.02 L669.88,1047.04 L670.53,1045.07 L671.17,1043.09 L671.81,1041.11 L672.46,1039.14 L673.10,1037.16 L673.75,1035.18 L674.40,1033.20 L675.05,1031.23 L675.69,1029.25 L676.34,1027.27 L676.99,1025.29 L677.65,1023.31 L678.30,1021.32 L678.95,1019.34 L679.60,1017.36 L680.26,1015.38 L680.91,1013.40 L681.57,1011.41 L682.22,1009.43 L682.88,1007.45 L683.53,1005.46 L684.19,1003.48 L684.85,1001.49 L685.51,999.51 L686.17,997.52 L686.83,995.53 L687.49,993.55 L688.15,991.56 L688.81,989.58 L689.47,987.59 L690.14,985.60 L690.80,983.61 L691.46,981.63 L692.13,979.64 L692.79,977.65 L693.46,975.66 L694.12,973.67 L694.79,971.68 L695.46,969.69 L696.12,967.70 L696.79,965.71 L697.46,963.72 L698.13,961.73 L698.80,959.74 L699.47,957.75 L700.14,955.76 L700.81,953.77 L701.48,951.78 L702.15,949.79 L702.82,947.80 L703.49,945.81 L704.17,943.82 L704.84,941.83 L705.51,939.84 L706.18,937.84 L706.86,935.85 L707.53,933.86 L708.21,931.87 L708.88,929.88 L709.56,927.89 L710.23,925.89 L710.91,923.90 L711.58,921.91 L712.26,919.92 L712.93,917.93 L713.61,915.94 L714.29,913.95 L714.96,911.95 L715.64,909.96 L716.32,907.97 L717.00,905.98 L717.67,903.99 L718.35,902.00 L719.03,900.01 L719.71,898.02 L720.39,896.03 L721.07,894.03 L721.74,892.04 L722.42,890.05 L723.10,888.06 L723.78,886.07 L724.46,884.08 L725.14,882.09 L725.82,880.10 L726.50,878.12 L727.18,876.13 L727.86,874.14 L728.54,872.15 L729.22,870.16 L729.90,868.17 L730.58,866.18 L731.26,864.20 L731.94,862.21 L732.62,860.22 L733.30,858.24 L733.98,856.25 L734.66,854.26 L735.34,852.28 L736.02,850.29 L736.70,848.31 L737.38,846.32 L738.06,844.34 L738.74,842.35 L739.42,840.37 L740.10,838.38 L740.78,836.40 L741.46,834.42 L742.15,832.43 L742.83,830.45 L743.51,828.47 L744.19,826.49 L744.87,824.51 L745.56,822.53 L746.24,820.55 L746.93,818.56 L747.61,816.58 L748.30,814.61 L748.98,812.63 L749.67,810.65 L750.35,808.67 L751.04,806.69 L751.73,804.71 L752.42,802.73 L753.10,800.76 L753.79,798.78 L754.48,796.80 L755.17,794.83 L755.87,792.85 L756.56,790.88 L757.25,788.90 L757.94,786.93 L758.64,784.96 L759.33,782.98 L760.03,781.01 L760.72,779.04 L761.42,777.06 L762.12,775.09 L762.82,773.12 L763.52,771.15 L764.22,769.18 L764.92,767.21 L765.62,765.24 L766.33,763.27 L767.03,761.30 L767.74,759.33 L768.45,757.37 L769.15,755.40 L769.86,753.43 L770.57,751.46 L771.28,749.50 L772.00,747.53 L772.71,745.57 L773.42,743.60 L774.14,741.64 L774.86,739.68 L775.57,737.71 L776.29,735.75 L777.01,733.79 L777.74,731.83 L778.46,729.86 L779.19,727.90 L779.91,725.94 L780.64,723.98 L781.37,722.02 L782.10,720.07 L782.83,718.11 L783.56,716.15 L784.30,714.19 L785.04,712.24 L785.77,710.28 L786.51,708.33 L787.25,706.37 L788.00,704.42 L788.74,702.46 L789.49,700.51 L790.23,698.56 L790.98,696.60 L791.73,694.65 L792.49,692.70 L793.24,690.75 L794.00,688.80 L794.75,686.85 L795.51,684.90 L796.28,682.96 L797.04,681.01 L797.80,679.06 L798.57,677.11 L799.34,675.17 L800.11,673.22 L800.88,671.28 L801.66,669.33 L802.44,667.39 L803.21,665.45 L803.99,663.51 L804.78,661.56 L805.56,659.62 L806.35,657.68 L807.14,655.74 L807.93,653.80 L808.72,651.87 L809.52,649.93 L810.32,647.99 L811.12,646.05 L811.92,644.12 L812.72,642.18 L813.53,640.25 L814.34,638.32 L815.15,636.38 L815.96,634.45 L816.78,632.52 L817.60,630.59 L818.42,628.66 L819.24,626.73 L820.07,624.80 L820.89,622.87 L821.73,620.94 L822.56,619.01 L823.39,617.09 L824.23,615.16 L825.07,613.24 L825.92,611.31 L826.76,609.39 L827.61,607.46 L828.46,605.54 L829.31,603.62 L830.17,601.70 L831.03,599.78 L831.89,597.86 L832.76,595.94 L833.62,594.02 L834.50,592.11 L835.37,590.19 L836.25,588.28 L837.13,586.37 L838.01,584.45 L838.90,582.55 L839.79,580.64 L840.69,578.73 L841.59,576.83 L842.50,574.93 L843.41,573.03 L844.32,571.13 L845.24,569.24 L846.16,567.35 L847.09,565.46 L848.03,563.57 L848.97,561.69 L849.91,559.81 L850.86,557.93 L851.82,556.06 L852.78,554.19 L853.75,552.32 L854.73,550.46 L855.71,548.60 L856.69,546.75 L857.69,544.90 L858.69,543.05 L859.70,541.21 L860.71,539.37 L861.73,537.54 L862.76,535.71 L863.80,533.89 L864.84,532.07 L865.89,530.25 L866.95,528.44 L868.02,526.64 L869.09,524.84 L870.18,523.05 L871.27,521.26 L872.37,519.48 L873.48,517.71 L874.60,515.94 L875.72,514.17 L876.86,512.42 L878.00,510.67 L879.16,508.92 L880.32,507.18 L881.49,505.45 L882.68,503.73 L883.87,502.01 L885.07,500.30 L886.29,498.60 L887.51,496.90 L888.74,495.21 L889.99,493.53 L891.24,491.86 L892.51,490.19 L893.78,488.53 L895.07,486.88 L896.37,485.24 L897.68,483.61 L899.00,481.98 L900.33,480.37 L901.68,478.76 L903.04,477.16 L904.41,475.57 L905.79,473.99 L907.18,472.41 L908.59,470.85 L910.00,469.30 L911.43,467.75 L912.87,466.22 L914.33,464.69 L915.79,463.18 L917.27,461.68 L918.76,460.18 L920.25,458.70 L921.77,457.23 L923.29,455.77 L924.82,454.33 L926.36,452.89 L927.92,451.47 L929.49,450.06 L931.06,448.66 L932.65,447.27 L934.25,445.90 L935.86,444.54 L937.48,443.19 L939.11,441.86 L940.75,440.54 L942.40,439.24 L944.06,437.95 L945.73,436.67 L947.41,435.41 L949.10,434.16 L950.80,432.93 L952.51,431.71 L954.23,430.51 L955.96,429.32 L957.70,428.15 L959.45,427.00 L961.20,425.86 L962.97,424.74 L964.75,423.63 L966.53,422.54 L968.33,421.47 L970.13,420.42 L971.94,419.38 L973.76,418.37 L975.59,417.36 L977.43,416.38 L979.28,415.42 L981.13,414.47 L982.99,413.55 L984.86,412.64 L986.74,411.75 L988.63,410.88 L990.53,410.03 L992.43,409.20 L994.34,408.39 L996.26,407.60 L998.19,406.83 L1000.12,406.09 L1002.06,405.36 L1004.01,404.65 L1005.97,403.97 L1007.93,403.30 L1009.90,402.66 L1011.88,402.04 L1013.87,401.44 L1015.86,400.87 L1017.86,400.31 L1019.86,399.77 L1021.87,399.25 L1023.89,398.75 L1025.91,398.27 L1027.94,397.81 L1029.97,397.36 L1032.01,396.93 L1034.05,396.51 L1036.10,396.12 L1038.15,395.73 L1040.21,395.36 L1042.27,395.01 L1044.33,394.66 L1046.40,394.33 L1048.47,394.02 L1050.55,393.71 L1052.63,393.41 L1054.71,393.13 L1056.80,392.86 L1058.89,392.59 L1060.98,392.34 L1063.07,392.09 L1065.16,391.85 L1067.26,391.62 L1069.36,391.40 L1071.46,391.18 L1073.56,390.97 L1075.67,390.76 L1077.77,390.56 L1079.87,390.36 L1081.98,390.16 L1084.09,389.97 L1086.19,389.79 L1088.30,389.60 L1090.40,389.41 L1092.51,389.23 L1094.62,389.05 L1096.72,388.87 L1098.83,388.69 L1100.93,388.51 L1103.04,388.33 L1105.14,388.15 L1107.24,387.98 L1109.35,387.80 L1111.45,387.63 L1113.55,387.46 L1115.66,387.29 L1117.76,387.12 L1119.86,386.95 L1121.97,386.78 L1124.07,386.61 L1126.17,386.45 L1128.27,386.28 L1130.37,386.12 L1132.47,385.95 L1134.58,385.79 L1136.68,385.63 L1138.78,385.47 L1140.88,385.32 L1142.98,385.16 L1145.08,385.00 L1147.18,384.85 L1149.28,384.69 L1151.38,384.54 L1153.47,384.39 L1155.57,384.24 L1157.67,384.09 L1159.77,383.94 L1161.87,383.79 L1163.97,383.64 L1166.06,383.49 L1168.16,383.35 L1170.26,383.20 L1172.36,383.06 L1174.45,382.92 L1176.55,382.78 L1178.65,382.64 L1180.74,382.50 L1182.84,382.36 L1184.94,382.22 L1187.03,382.08 L1189.13,381.95 L1191.22,381.81 L1193.32,381.68 L1195.42,381.55 L1197.51,381.41 L1199.61,381.28 L1201.70,381.15 L1203.80,381.02 L1205.89,380.90 L1207.98,380.77 L1210.08,380.64 L1212.17,380.51 L1214.27,380.39 L1216.36,380.27 L1218.45,380.14 L1220.55,380.02 L1222.64,379.90 L1224.73,379.78 L1226.83,379.66 L1228.92,379.54 L1231.01,379.42 L1233.11,379.30 L1235.20,379.19 L1237.29,379.07 L1239.38,378.96 L1241.48,378.84 L1243.57,378.73 L1245.66,378.62 L1247.75,378.50 L1249.84,378.39 L1251.93,378.28 L1254.03,378.17 L1256.12,378.06 L1258.21,377.96 L1260.30,377.85 L1262.39,377.74 L1264.48,377.64 L1266.57,377.53 L1268.66,377.43 L1270.75,377.32 L1272.84,377.22 L1274.93,377.12 L1277.02,377.02 L1279.11,376.92 L1281.20,376.82 L1283.29,376.72 L1285.38,376.62 L1287.47,376.52 L1289.56,376.43 L1291.65,376.33 L1293.74,376.23 L1295.83,376.14 L1297.92,376.04 L1300.01,375.95 L1302.10,375.86 L1304.19,375.76 L1306.28,375.67 L1308.37,375.58 L1310.46,375.49 L1312.55,375.40 L1314.64,375.31 L1316.73,375.22 L1318.81,375.14 L1320.90,375.05 L1322.99,374.96 L1325.08,374.88 L1327.17,374.79 L1329.26,374.71 L1331.35,374.62 L1333.43,374.54 L1335.52,374.45 L1337.61,374.37 L1339.70,374.29 L1341.79,374.21 L1343.88,374.13 L1345.97,374.05 L1348.05,373.97 L1350.14,373.89 L1352.23,373.81 L1354.32,373.73 L1356.41,373.65 L1358.49,373.58 L1360.58,373.50 L1362.67,373.42 L1364.76,373.35 L1366.85,373.27 L1368.94,373.20 L1371.02,373.13 L1373.11,373.05 L1375.20,372.98 L1377.29,372.91 L1379.38,372.83 L1381.46,372.76 L1383.55,372.69 L1385.64,372.62 L1387.73,372.55 L1389.82,372.48 L1391.90,372.41 L1393.99,372.34 L1396.08,372.27 L1398.17,372.21 L1400.26,372.14 L1402.35,372.07 L1404.43,372.01 L1406.52,371.94 L1408.61,371.87 L1410.70,371.81 L1412.79,371.74 L1414.88,371.68 L1416.96,371.61 L1419.05,371.55 L1421.14,371.49 L1423.23,371.42 L1425.32,371.36 L1427.41,371.30 L1429.50,371.24 L1431.59,371.17 L1433.67,371.11 L1435.76,371.05 L1437.85,370.99 L1439.94,370.93 L1442.03,370.87 L1444.12,370.81 L1446.21,370.75 L1448.30,370.69 L1450.39,370.63 L1452.48,370.57 L1454.57,370.52 L1456.66,370.46 L1458.74,370.40 L1460.83,370.34 L1462.92,370.29 L1465.01,370.23 L1467.10,370.17 L1469.19,370.12 L1471.28,370.06 L1473.37,370.01 L1475.46,369.95 L1477.55,369.90 L1479.65,369.84 L1481.74,369.79 L1483.83,369.73 L1485.92,369.68 L1488.01,369.62 L1490.10,369.57 L1492.19,369.52 L1494.28,369.46 L1496.37,369.41 L1498.46,369.36 L1500.56,369.30 L1502.65,369.25 L1504.74,369.20 L1506.83,369.15 L1508.92,369.09 L1511.01,369.04 L1513.11,368.99 L1515.20,368.94 L1517.29,368.89 L1519.38,368.83 L1521.48,368.78 L1523.57,368.73 L1525.66,368.68 L1527.76,368.63 L1529.85,368.58 L1531.94,368.53 L1534.04,368.48 L1536.13,368.43 L1538.22,368.38 L1540.32,368.33 L1542.41,368.28 L1544.50,368.23 L1546.60,368.18 L1548.69,368.13 L1550.79,368.09 L1552.88,368.04 L1554.97,367.99 L1557.07,367.94 L1559.16,367.89 L1561.26,367.84 L1563.35,367.80 L1565.45,367.75 L1567.54,367.70 L1569.64,367.65 L1571.73,367.61 L1573.83,367.56 L1575.92,367.51 L1578.02,367.47 L1580.11,367.42 L1582.21,367.37 L1584.31,367.33 L1586.40,367.28 L1588.50,367.24 L1590.59,367.19 L1592.69,367.15 L1594.78,367.10 L1596.88,367.06 L1598.98,367.01 L1601.07,366.97 L1603.17,366.92 L1605.26,366.88 L1607.36,366.83 L1609.46,366.79 L1611.55,366.75 L1613.65,366.70 L1615.75,366.66 L1617.84,366.62 L1619.94,366.57 L1622.04,366.53 L1624.13,366.49 L1626.23,366.44 L1628.33,366.40 L1630.42,366.36 L1632.52,366.32 L1634.62,366.28 L1636.72,366.24 L1638.81,366.19 L1640.91,366.15 L1643.01,366.11 L1645.10,366.07 L1647.20,366.03 L1649.30,365.99 L1651.40,365.95 L1653.49,365.91 L1655.59,365.87 L1657.69,365.83 L1659.79,365.79 L1661.88,365.75 L1663.98,365.71 L1666.08,365.67 L1668.17,365.63 L1670.27,365.60 L1672.37,365.56 L1674.47,365.52 L1676.57,365.48 L1678.66,365.44 L1680.76,365.41 L1682.86,365.37 L1684.96,365.33 L1687.05,365.29 L1689.15,365.26 L1691.25,365.22 L1693.35,365.18 L1695.44,365.15 L1697.54,365.11 L1699.64,365.08 L1701.74,365.04 L1703.83,365.01 L1705.93,364.97 L1708.03,364.93 L1710.13,364.90 L1712.23,364.87 L1714.32,364.83 L1716.42,364.80 L1718.52,364.76 L1720.62,364.73 L1722.71,364.69 L1724.81,364.66 L1726.91,364.63 L1729.01,364.59 L1731.10,364.56 L1733.20,364.53 L1735.30,364.50 L1737.40,364.46 L1739.49,364.43 L1741.59,364.40 L1743.69,364.37 L1745.79,364.34 L1747.88,364.31 L1749.98,364.27 L1752.08,364.24 L1754.17,364.21 L1756.27,364.18 L1758.37,364.15 L1760.47,364.12 L1762.56,364.09 L1764.66,364.06 L1766.76,364.03 L1768.85,364.00 L1770.95,363.97 L1773.05,363.95 L1775.14,363.92 L1777.24,363.89 L1779.34,363.86 L1781.43,363.83 L1783.53,363.80 L1785.63,363.78 L1787.72,363.75 L1789.82,363.72 L1791.92,363.70 L1794.01,363.67 L1796.11,363.64 L1798.21,363.62 L1800.30,363.59 L1802.40,363.56 L1804.49,363.54 L1806.59,363.51 L1808.69,363.49 L1810.78,363.46 L1812.88,363.44 L1814.97,363.41 L1817.07,363.39 L1819.16,363.36 L1821.26,363.34 L1823.36,363.32 L1825.45,363.29 L1827.55,363.27 L1829.64,363.25 L1831.74,363.22 L1833.83,363.20 L1835.93,363.18 L1838.02,363.15 L1840.11,363.13 L1842.21,363.11 L1844.30,363.09 L1846.40,363.07 L1848.49,363.05 L1850.59,363.03 L1852.68,363.00 L1854.77,362.98 L1856.87,362.96 L1858.96,362.94 L1861.06,362.92 L1863.15,362.90 L1865.24,362.88 L1867.34,362.87 L1869.43,362.85 L1871.52,362.83 L1873.62,362.81 L1875.71,362.79 L1877.80,362.77 L1879.89,362.75 L1881.99,362.74 L1884.08,362.72 L1886.17,362.70 L1888.26,362.69 L1890.36,362.67 L1892.45,362.65 L1894.54,362.64 L1896.63,362.62 L1898.72,362.60 L1900.81,362.59 L1902.91,362.57 L1905.00,362.56 L1907.09,362.54 L1909.18,362.53 L1911.27,362.51 L1913.36,362.50 L1915.45,362.48 L1917.54,362.47 L1919.63,362.46 L1921.72,362.44 L1923.81,362.43 L1925.90,362.42 L1927.99,362.41"/>
</g>
<rect x="337" y="44" width="1592" height="2234" fill="none" stroke="#000" stroke-width="2"/>
<g font-family="Liberation Serif, Times New Roman, serif" font-size="65" fill="#000">
<text transform="translate(296.5,2211.8) scale(0.97,1)" text-anchor="end">0.0</text>
<text transform="translate(296.5,1942.8) scale(0.97,1)" text-anchor="end">0.5</text>
<text transform="translate(296.5,1673.7) scale(0.97,1)" text-anchor="end">1.0</text>
<text transform="translate(296.5,1404.7) scale(0.97,1)" text-anchor="end">1.5</text>
<text transform="translate(296.5,1135.6) scale(0.97,1)" text-anchor="end">2.0</text>
<text transform="translate(296.5,866.6) scale(0.97,1)" text-anchor="end">2.5</text>
<text transform="translate(296.5,597.5) scale(0.97,1)" text-anchor="end">3.0</text>
<text transform="translate(296.5,328.5) scale(0.97,1)" text-anchor="end">3.5</text>
<text transform="translate(296.5,59.4) scale(0.97,1)" text-anchor="end">4.0</text>
<text x="343.9" y="2383.5" text-anchor="middle">2</text>
<text x="542.9" y="2383.5" text-anchor="middle">3</text>
<text x="742.0" y="2383.5" text-anchor="middle">4</text>
<text x="941.0" y="2383.5" text-anchor="middle">5</text>
<text x="1140.1" y="2383.5" text-anchor="middle">6</text>
<text x="1339.1" y="2383.5" text-anchor="middle">7</text>
<text x="1538.2" y="2383.5" text-anchor="middle">8</text>
<text x="1737.2" y="2383.5" text-anchor="middle">9</text>
<text x="1936.2" y="2383.5" text-anchor="middle">10</text>
</g>
<g font-family="Liberation Serif, Times New Roman, serif" fill="#000">
<text x="722.8" y="2523.5" font-size="79.5" >Internuclear Distance (a</text>
<text x="1484.2" y="2548.1" font-size="65" >0</text>
<text x="1514.8" y="2519.5" font-size="79.5" >)</text>
<g transform="translate(115.1,1647) rotate(-90)">
<text x="-2" y="0" font-size="79.5" >Relative Energy (cm</text>
<text x="655.1" y="-42" font-size="65" >-</text>
<text x="675.7" y="-43" font-size="65" >1</text>
<text x="706.2" y="-4.9" font-size="79.5" >)/10 000</text>
</g>
<text x="1355.2" y="459.1" font-size="64" >Te</text>
<text x="1419.2" y="429.6" font-size="55" >+</text>
<text x="1450" y="454.6" font-size="65" >(</text>
<text x="1468.8" y="426.7" font-size="40" >2</text>
<text x="1488.9" y="452.9" font-size="64" >D</text>
<text x="1536" y="478.4" font-size="41" >3/2</text>
<text x="1584.6" y="452.8" font-size="65" >)</text>
<text x="1620.1" y="457" font-size="74" >+</text>
<text x="1673.7" y="453.2" font-size="64" >H</text>
<text x="1720" y="452.7" font-size="65" >(</text>
<text x="1740.2" y="426.6" font-size="40" >2</text>
<text x="1760.6" y="453.5" font-size="64" >S</text>
<text x="1796.4" y="478.1" font-size="41" >1/2</text>
<text x="1844.1" y="452.5" font-size="65" >)</text>
<text x="1360.9" y="893.6" font-size="64" >Te</text>
<text x="1424.2" y="865.7" font-size="55" >+</text>
<text x="1455" y="890.7" font-size="65" >(</text>
<text x="1476.3" y="862.7" font-size="41" >4</text>
<text x="1495" y="889.3" font-size="64" >S</text>
<text x="1530.1" y="912.9" font-size="41" >3/2</text>
<text x="1580.3" y="889.7" font-size="65" >)</text>
<text x="1615.1" y="892.5" font-size="74" >+</text>
<text x="1667.8" y="888.7" font-size="64" >H</text>
<text x="1715.1" y="888.2" font-size="65" >(</text>
<text x="1735.2" y="862.9" font-size="40" >2</text>
<text x="1755.6" y="889.9" font-size="64" >S</text>
<text x="1790.5" y="912.8" font-size="41" >1/2</text>
<text x="1839.9" y="887.2" font-size="65" >)</text>
</g>
<g font-family="Carlito, Calibri, Liberation Sans, sans-serif" font-weight="bold">
<text x="512.8" y="1133.1" font-size="79" fill="#1fb04e" textLength="42.406" lengthAdjust="spacingAndGlyphs">b</text>
<text x="556.7" y="1133.3" font-size="83.6" fill="#1fb04e" textLength="42.375" lengthAdjust="spacingAndGlyphs">0</text>
<text x="599.1" y="1109.2" font-size="54" fill="#1fb04e" textLength="26.906" lengthAdjust="spacingAndGlyphs">+</text>
<text x="525.8" y="1632" font-size="82" fill="#1071b9" textLength="40.484" lengthAdjust="spacingAndGlyphs">a</text>
<text x="567.9" y="1631.7" font-size="82" fill="#1071b9" textLength="41.562" lengthAdjust="spacingAndGlyphs">2</text>
<text x="510.2" y="1994.8" font-size="81.5" fill="#ed1c24" textLength="44.891" lengthAdjust="spacingAndGlyphs">X</text>
<text x="556.2" y="2014.8" font-size="55" fill="#ed1c24" textLength="27.891" lengthAdjust="spacingAndGlyphs">2</text>
<text x="583.6" y="1994.8" font-size="81.5" fill="#ed1c24" textLength="41.312" lengthAdjust="spacingAndGlyphs">1</text>
<text x="653" y="2167.7" font-size="81.5" fill="#0a0a0a" textLength="44.891" lengthAdjust="spacingAndGlyphs">X</text>
<text x="699.1" y="2187.7" font-size="53.5" fill="#0a0a0a" textLength="27.125" lengthAdjust="spacingAndGlyphs">1</text>
<text x="727" y="2168" font-size="83.6" fill="#0a0a0a" textLength="42.375" lengthAdjust="spacingAndGlyphs">0</text>
<text x="769.1" y="2144" font-size="54" fill="#0a0a0a" textLength="26.906" lengthAdjust="spacingAndGlyphs">+</text>
</g>
</svg>
</body></html>
